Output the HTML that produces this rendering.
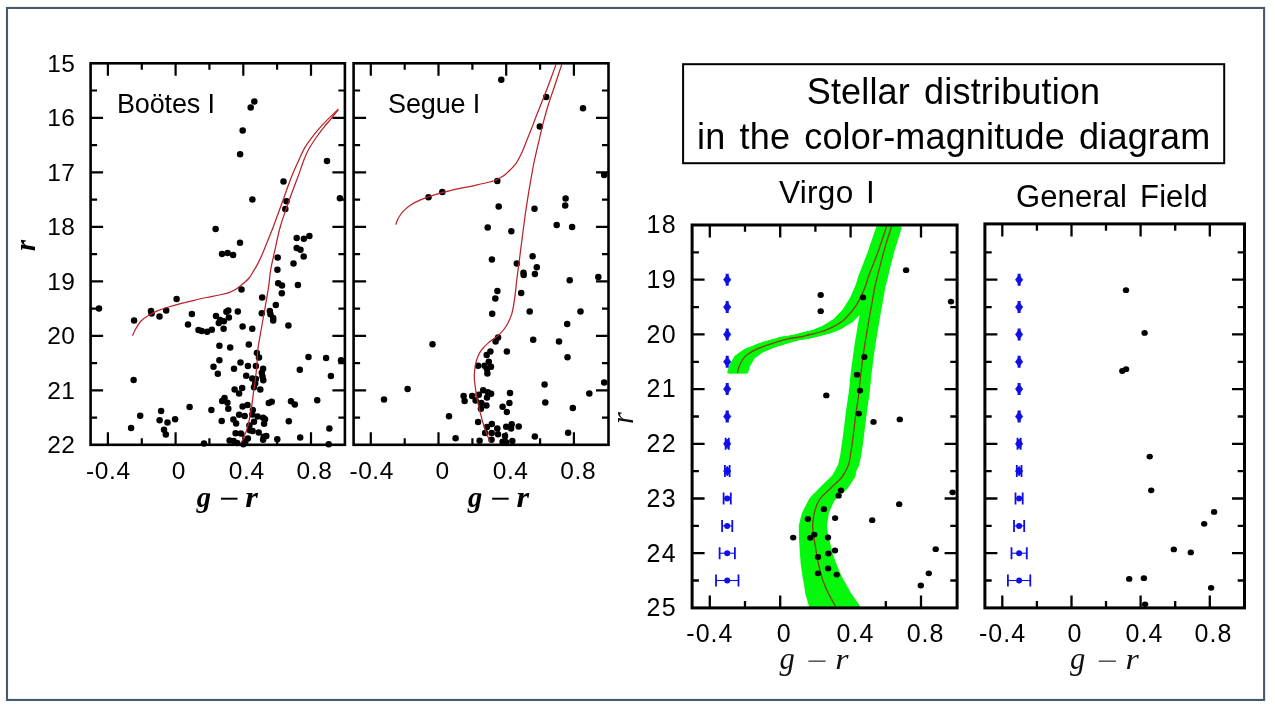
<!DOCTYPE html>
<html><head><meta charset="utf-8"><title>Stellar distribution in the color-magnitude diagram</title>
<style>html,body{margin:0;padding:0;background:#fff;}body{width:1275px;height:710px;overflow:hidden;font-family:"Liberation Sans",sans-serif;}svg{display:block;mix-blend-mode:multiply;}text{font-family:"Liberation Sans",sans-serif;fill:#000;}.bi{font-family:"Liberation Serif",serif;font-weight:bold;font-style:italic;}.it{font-family:"Liberation Serif",serif;font-style:italic;fill:#111;}</style>
</head><body>
<svg width="1275" height="710" viewBox="0 0 1275 710">
<rect x="0" y="0" width="1275" height="710" fill="#ffffff"/>
<rect x="7" y="7.95" width="1257.1" height="692" fill="none" stroke="#47596b" stroke-width="2.1"/>
<path d="M107.9,63.3v12.5M107.9,444.8v-12.5M175.6,63.3v12.5M175.6,444.8v-12.5M243.3,63.3v12.5M243.3,444.8v-12.5M311.0,63.3v12.5M311.0,444.8v-12.5M141.8,63.3v6.5M141.8,444.8v-6.5M209.4,63.3v6.5M209.4,444.8v-6.5M277.1,63.3v6.5M277.1,444.8v-6.5M90.6,117.8h12.5M344.9,117.8h-12.5M90.6,172.3h12.5M344.9,172.3h-12.5M90.6,226.8h12.5M344.9,226.8h-12.5M90.6,281.3h12.5M344.9,281.3h-12.5M90.6,335.8h12.5M344.9,335.8h-12.5M90.6,390.3h12.5M344.9,390.3h-12.5M90.6,90.5h6.5M344.9,90.5h-6.5M90.6,145.1h6.5M344.9,145.1h-6.5M90.6,199.6h6.5M344.9,199.6h-6.5M90.6,254.1h6.5M344.9,254.1h-6.5M90.6,308.6h6.5M344.9,308.6h-6.5M90.6,363.1h6.5M344.9,363.1h-6.5M90.6,417.6h6.5M344.9,417.6h-6.5" stroke="#000" stroke-width="2.2" fill="none"/>
<path d="M370.8,63.3v12.5M370.8,444.8v-12.5M438.5,63.3v12.5M438.5,444.8v-12.5M506.2,63.3v12.5M506.2,444.8v-12.5M573.9,63.3v12.5M573.9,444.8v-12.5M404.7,63.3v6.5M404.7,444.8v-6.5M472.4,63.3v6.5M472.4,444.8v-6.5M540.1,63.3v6.5M540.1,444.8v-6.5M353.6,117.8h12.5M608.5,117.8h-12.5M353.6,172.3h12.5M608.5,172.3h-12.5M353.6,226.8h12.5M608.5,226.8h-12.5M353.6,281.3h12.5M608.5,281.3h-12.5M353.6,335.8h12.5M608.5,335.8h-12.5M353.6,390.3h12.5M608.5,390.3h-12.5M353.6,90.5h6.5M608.5,90.5h-6.5M353.6,145.1h6.5M608.5,145.1h-6.5M353.6,199.6h6.5M608.5,199.6h-6.5M353.6,254.1h6.5M608.5,254.1h-6.5M353.6,308.6h6.5M608.5,308.6h-6.5M353.6,363.1h6.5M608.5,363.1h-6.5M353.6,417.6h6.5M608.5,417.6h-6.5" stroke="#000" stroke-width="2.2" fill="none"/>
<clipPath id="c1"><rect x="90.6" y="63.3" width="254.3" height="381.5"/></clipPath>
<clipPath id="c2"><rect x="353.6" y="63.3" width="254.9" height="381.5"/></clipPath>
<g fill="#000"><ellipse cx="254.3" cy="101.6" rx="3.25" ry="3.25"/><ellipse cx="250.7" cy="107.4" rx="3.25" ry="3.25"/><ellipse cx="242.7" cy="130.5" rx="3.25" ry="3.25"/><ellipse cx="240.1" cy="154.3" rx="3.25" ry="3.25"/><ellipse cx="327.0" cy="160.9" rx="3.25" ry="3.25"/><ellipse cx="283.5" cy="181.4" rx="3.25" ry="3.25"/><ellipse cx="252.4" cy="199.5" rx="3.25" ry="3.25"/><ellipse cx="286.5" cy="201.3" rx="3.25" ry="3.25"/><ellipse cx="285.3" cy="209.0" rx="3.25" ry="3.25"/><ellipse cx="339.9" cy="198.3" rx="3.25" ry="3.25"/><ellipse cx="215.6" cy="229.0" rx="3.25" ry="3.25"/><ellipse cx="222.0" cy="253.9" rx="3.25" ry="3.25"/><ellipse cx="227.6" cy="253.0" rx="3.25" ry="3.25"/><ellipse cx="233.1" cy="255.0" rx="3.25" ry="3.25"/><ellipse cx="240.0" cy="242.7" rx="3.25" ry="3.25"/><ellipse cx="296.7" cy="238.0" rx="3.25" ry="3.25"/><ellipse cx="303.9" cy="238.7" rx="3.25" ry="3.25"/><ellipse cx="309.4" cy="235.9" rx="3.25" ry="3.25"/><ellipse cx="296.7" cy="247.9" rx="3.25" ry="3.25"/><ellipse cx="300.5" cy="249.8" rx="3.25" ry="3.25"/><ellipse cx="303.7" cy="256.4" rx="3.25" ry="3.25"/><ellipse cx="277.7" cy="257.4" rx="3.25" ry="3.25"/><ellipse cx="293.5" cy="263.4" rx="3.25" ry="3.25"/><ellipse cx="277.4" cy="269.7" rx="3.25" ry="3.25"/><ellipse cx="278.2" cy="283.2" rx="3.25" ry="3.25"/><ellipse cx="282.0" cy="285.6" rx="3.25" ry="3.25"/><ellipse cx="297.9" cy="285.0" rx="3.25" ry="3.25"/><ellipse cx="241.5" cy="289.5" rx="3.25" ry="3.25"/><ellipse cx="99.0" cy="308.5" rx="3.25" ry="3.25"/><ellipse cx="134.1" cy="320.6" rx="3.25" ry="3.25"/><ellipse cx="151.0" cy="311.1" rx="3.25" ry="3.25"/><ellipse cx="151.6" cy="313.6" rx="3.25" ry="3.25"/><ellipse cx="159.5" cy="316.5" rx="3.25" ry="3.25"/><ellipse cx="166.2" cy="310.4" rx="3.25" ry="3.25"/><ellipse cx="176.6" cy="299.0" rx="3.25" ry="3.25"/><ellipse cx="191.9" cy="314.0" rx="3.25" ry="3.25"/><ellipse cx="188.0" cy="324.4" rx="3.25" ry="3.25"/><ellipse cx="198.5" cy="330.1" rx="3.25" ry="3.25"/><ellipse cx="201.7" cy="331.1" rx="3.25" ry="3.25"/><ellipse cx="207.1" cy="331.7" rx="3.25" ry="3.25"/><ellipse cx="211.8" cy="329.8" rx="3.25" ry="3.25"/><ellipse cx="216.0" cy="315.9" rx="3.25" ry="3.25"/><ellipse cx="218.8" cy="323.1" rx="3.25" ry="3.25"/><ellipse cx="220.1" cy="319.9" rx="3.25" ry="3.25"/><ellipse cx="223.9" cy="321.2" rx="3.25" ry="3.25"/><ellipse cx="223.6" cy="328.8" rx="3.25" ry="3.25"/><ellipse cx="228.9" cy="317.6" rx="3.25" ry="3.25"/><ellipse cx="228.3" cy="310.4" rx="3.25" ry="3.25"/><ellipse cx="226.4" cy="311.7" rx="3.25" ry="3.25"/><ellipse cx="237.8" cy="311.4" rx="3.25" ry="3.25"/><ellipse cx="219.4" cy="345.7" rx="3.25" ry="3.25"/><ellipse cx="230.2" cy="347.4" rx="3.25" ry="3.25"/><ellipse cx="219.4" cy="360.2" rx="3.25" ry="3.25"/><ellipse cx="213.5" cy="366.8" rx="3.25" ry="3.25"/><ellipse cx="234.0" cy="368.7" rx="3.25" ry="3.25"/><ellipse cx="240.5" cy="362.5" rx="3.25" ry="3.25"/><ellipse cx="281.8" cy="293.3" rx="3.25" ry="3.25"/><ellipse cx="262.2" cy="297.5" rx="3.25" ry="3.25"/><ellipse cx="275.8" cy="305.0" rx="3.25" ry="3.25"/><ellipse cx="261.8" cy="313.3" rx="3.25" ry="3.25"/><ellipse cx="269.8" cy="311.1" rx="3.25" ry="3.25"/><ellipse cx="270.4" cy="314.2" rx="3.25" ry="3.25"/><ellipse cx="273.2" cy="318.0" rx="3.25" ry="3.25"/><ellipse cx="273.2" cy="320.6" rx="3.25" ry="3.25"/><ellipse cx="288.4" cy="325.6" rx="3.25" ry="3.25"/><ellipse cx="242.6" cy="326.5" rx="3.25" ry="3.25"/><ellipse cx="252.3" cy="328.8" rx="3.25" ry="3.25"/><ellipse cx="248.8" cy="344.6" rx="3.25" ry="3.25"/><ellipse cx="256.8" cy="352.9" rx="3.25" ry="3.25"/><ellipse cx="259.0" cy="357.6" rx="3.25" ry="3.25"/><ellipse cx="247.9" cy="365.9" rx="3.25" ry="3.25"/><ellipse cx="255.9" cy="365.9" rx="3.25" ry="3.25"/><ellipse cx="263.1" cy="368.7" rx="3.25" ry="3.25"/><ellipse cx="308.5" cy="357.1" rx="3.25" ry="3.25"/><ellipse cx="326.1" cy="357.9" rx="3.25" ry="3.25"/><ellipse cx="341.0" cy="360.3" rx="3.25" ry="3.25"/><ellipse cx="299.8" cy="369.8" rx="3.25" ry="3.25"/><ellipse cx="133.6" cy="379.9" rx="3.25" ry="3.25"/><ellipse cx="140.2" cy="415.8" rx="3.25" ry="3.25"/><ellipse cx="131.1" cy="428.1" rx="3.25" ry="3.25"/><ellipse cx="161.1" cy="411.0" rx="3.25" ry="3.25"/><ellipse cx="159.6" cy="420.2" rx="3.25" ry="3.25"/><ellipse cx="167.5" cy="422.5" rx="3.25" ry="3.25"/><ellipse cx="175.1" cy="419.2" rx="3.25" ry="3.25"/><ellipse cx="164.0" cy="429.7" rx="3.25" ry="3.25"/><ellipse cx="165.8" cy="434.5" rx="3.25" ry="3.25"/><ellipse cx="189.6" cy="406.9" rx="3.25" ry="3.25"/><ellipse cx="211.4" cy="410.1" rx="3.25" ry="3.25"/><ellipse cx="217.8" cy="373.7" rx="3.25" ry="3.25"/><ellipse cx="234.6" cy="389.5" rx="3.25" ry="3.25"/><ellipse cx="239.1" cy="393.6" rx="3.25" ry="3.25"/><ellipse cx="224.5" cy="398.0" rx="3.25" ry="3.25"/><ellipse cx="222.2" cy="400.9" rx="3.25" ry="3.25"/><ellipse cx="227.4" cy="402.7" rx="3.25" ry="3.25"/><ellipse cx="228.3" cy="408.8" rx="3.25" ry="3.25"/><ellipse cx="221.7" cy="421.1" rx="3.25" ry="3.25"/><ellipse cx="233.4" cy="419.6" rx="3.25" ry="3.25"/><ellipse cx="236.1" cy="423.4" rx="3.25" ry="3.25"/><ellipse cx="239.1" cy="414.8" rx="3.25" ry="3.25"/><ellipse cx="235.6" cy="433.3" rx="3.25" ry="3.25"/><ellipse cx="229.6" cy="440.5" rx="3.25" ry="3.25"/><ellipse cx="233.6" cy="441.1" rx="3.25" ry="3.25"/><ellipse cx="204.0" cy="443.4" rx="3.25" ry="3.25"/><ellipse cx="261.8" cy="372.7" rx="3.25" ry="3.25"/><ellipse cx="262.5" cy="376.5" rx="3.25" ry="3.25"/><ellipse cx="263.3" cy="380.3" rx="3.25" ry="3.25"/><ellipse cx="246.2" cy="375.8" rx="3.25" ry="3.25"/><ellipse cx="252.3" cy="378.4" rx="3.25" ry="3.25"/><ellipse cx="255.9" cy="379.0" rx="3.25" ry="3.25"/><ellipse cx="255.2" cy="383.4" rx="3.25" ry="3.25"/><ellipse cx="254.0" cy="387.2" rx="3.25" ry="3.25"/><ellipse cx="260.3" cy="389.5" rx="3.25" ry="3.25"/><ellipse cx="242.2" cy="388.1" rx="3.25" ry="3.25"/><ellipse cx="242.6" cy="406.6" rx="3.25" ry="3.25"/><ellipse cx="247.5" cy="405.0" rx="3.25" ry="3.25"/><ellipse cx="268.8" cy="403.1" rx="3.25" ry="3.25"/><ellipse cx="271.7" cy="401.8" rx="3.25" ry="3.25"/><ellipse cx="291.0" cy="401.2" rx="3.25" ry="3.25"/><ellipse cx="294.8" cy="404.4" rx="3.25" ry="3.25"/><ellipse cx="317.2" cy="400.2" rx="3.25" ry="3.25"/><ellipse cx="330.9" cy="376.1" rx="3.25" ry="3.25"/><ellipse cx="252.9" cy="410.1" rx="3.25" ry="3.25"/><ellipse cx="252.3" cy="414.5" rx="3.25" ry="3.25"/><ellipse cx="244.7" cy="416.1" rx="3.25" ry="3.25"/><ellipse cx="257.6" cy="416.6" rx="3.25" ry="3.25"/><ellipse cx="263.1" cy="417.7" rx="3.25" ry="3.25"/><ellipse cx="265.0" cy="419.3" rx="3.25" ry="3.25"/><ellipse cx="264.1" cy="423.7" rx="3.25" ry="3.25"/><ellipse cx="254.0" cy="421.7" rx="3.25" ry="3.25"/><ellipse cx="249.4" cy="425.5" rx="3.25" ry="3.25"/><ellipse cx="249.8" cy="430.3" rx="3.25" ry="3.25"/><ellipse cx="252.7" cy="431.0" rx="3.25" ry="3.25"/><ellipse cx="258.7" cy="432.6" rx="3.25" ry="3.25"/><ellipse cx="240.9" cy="433.5" rx="3.25" ry="3.25"/><ellipse cx="288.8" cy="421.2" rx="3.25" ry="3.25"/><ellipse cx="329.4" cy="428.4" rx="3.25" ry="3.25"/><ellipse cx="300.2" cy="437.6" rx="3.25" ry="3.25"/><ellipse cx="277.3" cy="439.2" rx="3.25" ry="3.25"/><ellipse cx="263.7" cy="436.7" rx="3.25" ry="3.25"/><ellipse cx="266.3" cy="436.0" rx="3.25" ry="3.25"/><ellipse cx="263.1" cy="439.8" rx="3.25" ry="3.25"/><ellipse cx="247.9" cy="438.6" rx="3.25" ry="3.25"/><ellipse cx="237.1" cy="443.0" rx="3.25" ry="3.25"/><ellipse cx="243.4" cy="444.3" rx="3.25" ry="3.25"/><ellipse cx="245.3" cy="441.7" rx="3.25" ry="3.25"/><ellipse cx="328.7" cy="444.3" rx="3.25" ry="3.25"/></g>
<g fill="#000"><ellipse cx="501.3" cy="79.8" rx="3.25" ry="3.25"/><ellipse cx="546.2" cy="96.9" rx="3.25" ry="3.25"/><ellipse cx="583.0" cy="108.3" rx="3.25" ry="3.25"/><ellipse cx="539.8" cy="126.4" rx="3.25" ry="3.25"/><ellipse cx="428.5" cy="197.2" rx="3.25" ry="3.25"/><ellipse cx="442.3" cy="192.1" rx="3.25" ry="3.25"/><ellipse cx="497.3" cy="181.0" rx="3.25" ry="3.25"/><ellipse cx="498.7" cy="206.4" rx="3.25" ry="3.25"/><ellipse cx="534.5" cy="208.8" rx="3.25" ry="3.25"/><ellipse cx="565.6" cy="198.4" rx="3.25" ry="3.25"/><ellipse cx="565.2" cy="205.4" rx="3.25" ry="3.25"/><ellipse cx="604.2" cy="175.0" rx="3.25" ry="3.25"/><ellipse cx="487.7" cy="227.5" rx="3.25" ry="3.25"/><ellipse cx="491.9" cy="259.4" rx="3.25" ry="3.25"/><ellipse cx="497.4" cy="290.9" rx="3.25" ry="3.25"/><ellipse cx="495.3" cy="298.5" rx="3.25" ry="3.25"/><ellipse cx="511.3" cy="231.3" rx="3.25" ry="3.25"/><ellipse cx="556.7" cy="225.0" rx="3.25" ry="3.25"/><ellipse cx="572.1" cy="227.1" rx="3.25" ry="3.25"/><ellipse cx="532.6" cy="256.3" rx="3.25" ry="3.25"/><ellipse cx="516.8" cy="263.6" rx="3.25" ry="3.25"/><ellipse cx="536.8" cy="267.3" rx="3.25" ry="3.25"/><ellipse cx="523.5" cy="272.7" rx="3.25" ry="3.25"/><ellipse cx="523.7" cy="274.9" rx="3.25" ry="3.25"/><ellipse cx="534.9" cy="274.0" rx="3.25" ry="3.25"/><ellipse cx="569.7" cy="280.3" rx="3.25" ry="3.25"/><ellipse cx="598.3" cy="276.9" rx="3.25" ry="3.25"/><ellipse cx="521.2" cy="293.0" rx="3.25" ry="3.25"/><ellipse cx="492.2" cy="313.7" rx="3.25" ry="3.25"/><ellipse cx="432.5" cy="344.2" rx="3.25" ry="3.25"/><ellipse cx="498.1" cy="337.5" rx="3.25" ry="3.25"/><ellipse cx="495.6" cy="341.5" rx="3.25" ry="3.25"/><ellipse cx="490.4" cy="351.5" rx="3.25" ry="3.25"/><ellipse cx="486.7" cy="355.1" rx="3.25" ry="3.25"/><ellipse cx="488.8" cy="361.7" rx="3.25" ry="3.25"/><ellipse cx="478.1" cy="365.8" rx="3.25" ry="3.25"/><ellipse cx="484.5" cy="365.8" rx="3.25" ry="3.25"/><ellipse cx="491.0" cy="366.7" rx="3.25" ry="3.25"/><ellipse cx="487.0" cy="369.2" rx="3.25" ry="3.25"/><ellipse cx="487.4" cy="373.6" rx="3.25" ry="3.25"/><ellipse cx="529.7" cy="311.5" rx="3.25" ry="3.25"/><ellipse cx="580.5" cy="311.5" rx="3.25" ry="3.25"/><ellipse cx="567.2" cy="324.0" rx="3.25" ry="3.25"/><ellipse cx="533.2" cy="339.8" rx="3.25" ry="3.25"/><ellipse cx="559.0" cy="341.6" rx="3.25" ry="3.25"/><ellipse cx="506.9" cy="351.5" rx="3.25" ry="3.25"/><ellipse cx="567.5" cy="357.2" rx="3.25" ry="3.25"/><ellipse cx="407.6" cy="389.1" rx="3.25" ry="3.25"/><ellipse cx="384.0" cy="399.6" rx="3.25" ry="3.25"/><ellipse cx="449.0" cy="416.3" rx="3.25" ry="3.25"/><ellipse cx="455.6" cy="438.3" rx="3.25" ry="3.25"/><ellipse cx="463.6" cy="396.1" rx="3.25" ry="3.25"/><ellipse cx="464.6" cy="400.9" rx="3.25" ry="3.25"/><ellipse cx="472.2" cy="396.1" rx="3.25" ry="3.25"/><ellipse cx="475.6" cy="400.5" rx="3.25" ry="3.25"/><ellipse cx="478.8" cy="394.8" rx="3.25" ry="3.25"/><ellipse cx="483.2" cy="390.3" rx="3.25" ry="3.25"/><ellipse cx="487.9" cy="392.2" rx="3.25" ry="3.25"/><ellipse cx="491.1" cy="393.7" rx="3.25" ry="3.25"/><ellipse cx="487.0" cy="397.4" rx="3.25" ry="3.25"/><ellipse cx="481.3" cy="403.0" rx="3.25" ry="3.25"/><ellipse cx="486.4" cy="405.6" rx="3.25" ry="3.25"/><ellipse cx="480.9" cy="408.7" rx="3.25" ry="3.25"/><ellipse cx="478.1" cy="422.0" rx="3.25" ry="3.25"/><ellipse cx="487.0" cy="427.1" rx="3.25" ry="3.25"/><ellipse cx="491.8" cy="423.9" rx="3.25" ry="3.25"/><ellipse cx="485.1" cy="433.1" rx="3.25" ry="3.25"/><ellipse cx="491.7" cy="433.1" rx="3.25" ry="3.25"/><ellipse cx="497.3" cy="428.6" rx="3.25" ry="3.25"/><ellipse cx="498.0" cy="434.3" rx="3.25" ry="3.25"/><ellipse cx="491.5" cy="439.8" rx="3.25" ry="3.25"/><ellipse cx="479.6" cy="440.7" rx="3.25" ry="3.25"/><ellipse cx="544.6" cy="384.4" rx="3.25" ry="3.25"/><ellipse cx="604.2" cy="382.4" rx="3.25" ry="3.25"/><ellipse cx="589.3" cy="393.5" rx="3.25" ry="3.25"/><ellipse cx="510.0" cy="393.1" rx="3.25" ry="3.25"/><ellipse cx="509.4" cy="403.0" rx="3.25" ry="3.25"/><ellipse cx="502.6" cy="406.8" rx="3.25" ry="3.25"/><ellipse cx="506.9" cy="412.1" rx="3.25" ry="3.25"/><ellipse cx="545.3" cy="402.6" rx="3.25" ry="3.25"/><ellipse cx="572.8" cy="408.1" rx="3.25" ry="3.25"/><ellipse cx="506.2" cy="426.7" rx="3.25" ry="3.25"/><ellipse cx="511.7" cy="424.2" rx="3.25" ry="3.25"/><ellipse cx="511.1" cy="428.4" rx="3.25" ry="3.25"/><ellipse cx="518.7" cy="426.5" rx="3.25" ry="3.25"/><ellipse cx="505.0" cy="436.0" rx="3.25" ry="3.25"/><ellipse cx="502.6" cy="441.7" rx="3.25" ry="3.25"/><ellipse cx="506.0" cy="442.3" rx="3.25" ry="3.25"/><ellipse cx="512.3" cy="441.0" rx="3.25" ry="3.25"/><ellipse cx="534.8" cy="436.6" rx="3.25" ry="3.25"/><ellipse cx="568.1" cy="432.8" rx="3.25" ry="3.25"/></g>
<g clip-path="url(#c1)" fill="none" stroke="#b8242a" stroke-width="1.25"><path d="M132.6,335.8 C133.1,334.6 134.4,331.2 135.8,328.8 C137.2,326.4 138.7,323.4 140.8,321.2 C142.9,319.0 145.4,317.3 148.4,315.5 C151.4,313.7 155.2,311.8 158.6,310.4 C162.0,309.0 164.9,308.2 168.7,307.0 C172.5,305.8 177.2,304.5 181.4,303.4 C185.6,302.3 189.9,301.3 194.1,300.3 C198.3,299.3 202.5,298.4 206.7,297.5 C210.9,296.6 215.6,295.9 219.4,295.0 C223.2,294.1 226.7,293.4 229.6,292.3 C232.5,291.2 234.5,290.1 237.0,288.5 C239.5,286.9 242.4,284.3 244.5,282.5 C246.6,280.7 248.1,279.2 249.5,277.5 C250.9,275.8 251.6,274.4 253.0,272.0 C254.4,269.6 256.2,266.9 258.0,263.4 C259.8,259.8 261.2,256.8 263.7,250.7 C266.2,244.6 270.0,235.4 273.2,227.0 C276.4,218.6 280.5,207.2 283.1,200.0 C285.7,192.8 287.2,188.3 288.9,183.7 C290.6,179.1 291.7,176.3 293.4,172.3 C295.1,168.3 297.2,163.7 299.1,159.6 C301.0,155.5 302.6,151.4 304.8,147.6 C307.0,143.8 309.6,140.4 312.4,136.8 C315.1,133.2 318.1,129.6 321.3,126.1 C324.5,122.6 328.5,118.7 331.4,115.9 C334.2,113.1 337.2,110.3 338.4,109.2"/><path d="M338.4,109.6 C337.2,111.1 333.8,115.5 331.4,118.4 C329.0,121.4 326.3,124.1 323.8,127.3 C321.3,130.5 318.7,133.8 316.2,137.5 C313.7,141.2 310.7,145.6 308.6,149.5 C306.5,153.4 305.1,156.9 303.5,160.9 C301.9,164.9 300.5,169.8 299.1,173.6 C297.7,177.4 296.9,179.3 295.3,183.7 C293.7,188.1 291.8,192.8 289.3,200.0 C286.8,207.2 282.6,218.6 280.2,227.0 C277.8,235.4 276.4,243.6 274.8,250.7 C273.2,257.8 271.8,263.4 270.7,269.7 C269.6,276.0 269.8,279.5 268.3,288.7 C266.9,297.9 263.7,315.1 262.0,325.0 C260.3,334.9 258.9,341.7 258.0,348.4 C257.1,355.1 257.3,359.7 256.9,365.0 C256.4,370.3 255.9,375.6 255.3,380.0 C254.8,384.4 254.3,386.6 253.6,391.7 C252.9,396.8 252.1,404.6 251.0,410.7 C249.9,416.8 248.8,423.1 247.2,428.4 C245.6,433.7 242.4,440.1 241.5,442.4"/></g>
<g clip-path="url(#c2)" fill="none" stroke="#b8242a" stroke-width="1.25"><path d="M395.8,224.6 C396.1,223.8 396.8,221.3 397.5,219.8 C398.2,218.3 399.0,216.9 400.0,215.5 C401.0,214.1 401.6,212.9 403.4,211.1 C405.2,209.3 408.1,206.7 411.0,204.8 C413.9,202.9 417.1,201.4 421.1,199.7 C425.1,198.0 429.6,196.3 435.1,194.6 C440.6,192.9 447.8,191.1 454.1,189.6 C460.4,188.1 467.2,187.1 473.1,185.8 C479.0,184.5 485.6,183.1 489.6,182.0 C493.6,180.9 494.4,180.8 497.0,179.5 C499.6,178.2 502.2,177.0 505.3,174.4 C508.4,171.8 512.8,167.8 515.5,164.2 C518.2,160.6 519.9,156.8 521.8,152.8 C523.7,148.8 525.4,143.9 526.9,140.1 C528.4,136.3 529.5,133.8 531.0,130.0 C532.5,126.2 533.3,123.6 535.8,117.2 C538.3,110.8 542.5,100.6 545.9,91.8 C549.3,83.0 554.3,69.1 556.0,64.6"/><path d="M561.7,64.6 C560.6,68.1 557.0,78.8 554.8,85.5 C552.6,92.2 550.3,98.4 548.4,104.5 C546.5,110.6 544.9,116.4 543.4,122.2 C541.9,128.0 540.9,132.6 539.3,139.4 C537.7,146.2 535.3,156.1 533.9,163.0 C532.5,169.9 531.8,174.6 530.7,180.7 C529.6,186.8 528.4,194.0 527.5,199.7 C526.6,205.4 526.0,209.1 525.2,215.0 C524.4,220.9 523.5,227.7 522.5,235.3 C521.5,242.9 520.2,253.3 519.3,260.7 C518.3,268.1 517.6,273.2 516.8,279.7 C516.0,286.2 515.4,293.9 514.5,299.6 C513.6,305.3 513.0,309.8 511.7,314.1 C510.4,318.4 508.6,322.1 506.6,325.5 C504.6,328.9 502.5,331.5 499.5,334.4 C496.5,337.2 491.8,339.8 488.6,342.6 C485.4,345.4 482.6,348.2 480.5,351.3 C478.4,354.4 477.3,357.7 476.3,361.0 C475.3,364.3 474.9,368.0 474.6,371.1 C474.3,374.2 474.1,375.5 474.4,379.4 C474.7,383.2 475.5,389.2 476.3,394.2 C477.1,399.2 478.1,404.1 479.4,409.4 C480.7,414.7 482.1,420.3 483.9,425.8 C485.7,431.3 489.1,439.6 490.2,442.3"/></g>
<rect x="90.6" y="63.3" width="254.3" height="381.5" fill="none" stroke="#000" stroke-width="2.6"/>
<rect x="353.6" y="63.3" width="254.9" height="381.5" fill="none" stroke="#000" stroke-width="2.6"/>
<text x="75.3" y="71.7" font-size="24.5" text-anchor="end" letter-spacing="0.4">15</text>
<text x="75.3" y="126.2" font-size="24.5" text-anchor="end" letter-spacing="0.4">16</text>
<text x="75.3" y="180.7" font-size="24.5" text-anchor="end" letter-spacing="0.4">17</text>
<text x="75.3" y="235.2" font-size="24.5" text-anchor="end" letter-spacing="0.4">18</text>
<text x="75.3" y="289.7" font-size="24.5" text-anchor="end" letter-spacing="0.4">19</text>
<text x="75.3" y="344.2" font-size="24.5" text-anchor="end" letter-spacing="0.4">20</text>
<text x="75.3" y="398.7" font-size="24.5" text-anchor="end" letter-spacing="0.4">21</text>
<text x="75.3" y="453.2" font-size="24.5" text-anchor="end" letter-spacing="0.4">22</text>
<text x="108.3" y="478.8" font-size="24.5" text-anchor="middle" letter-spacing="0.6">-0.4</text>
<text x="178.8" y="478.8" font-size="24.5" text-anchor="middle" letter-spacing="0.6">0</text>
<text x="246.8" y="478.8" font-size="24.5" text-anchor="middle" letter-spacing="0.6">0.4</text>
<text x="314.5" y="478.8" font-size="24.5" text-anchor="middle" letter-spacing="0.6">0.8</text>
<text x="371.7" y="478.8" font-size="24.5" text-anchor="middle" letter-spacing="0.6">-0.4</text>
<text x="442.5" y="478.8" font-size="24.5" text-anchor="middle" letter-spacing="0.6">0</text>
<text x="510.6" y="478.8" font-size="24.5" text-anchor="middle" letter-spacing="0.6">0.4</text>
<text x="578.1999999999999" y="478.8" font-size="24.5" text-anchor="middle" letter-spacing="0.6">0.8</text>
<text x="117" y="112.7" font-size="27" letter-spacing="-0.15">Boötes I</text>
<text x="388.1" y="112.7" font-size="27" letter-spacing="-0.15">Segue I</text>
<text class="bi" x="196.8" y="506.7" font-size="28.5">g</text>
<rect x="221.0" y="497.7" width="16.5" height="2" fill="#000"/>
<text class="bi" transform="translate(245.2,506.7) scale(1.14,1)" font-size="28.5">r</text>
<text class="bi" x="468.0" y="506.7" font-size="28.5">g</text>
<rect x="492.2" y="497.7" width="16.5" height="2" fill="#000"/>
<text class="bi" transform="translate(516.4,506.7) scale(1.14,1)" font-size="28.5">r</text>
<text class="bi" font-size="28.5" transform="translate(35,251) rotate(-90)">r</text>
<path d="M709.8,225.0v12.5M709.8,607.9v-12.5M780.2,225.0v12.5M780.2,607.9v-12.5M850.6,225.0v12.5M850.6,607.9v-12.5M921.0,225.0v12.5M921.0,607.9v-12.5M745.0,225.0v6.8M745.0,607.9v-6.8M815.4,225.0v6.8M815.4,607.9v-6.8M885.8,225.0v6.8M885.8,607.9v-6.8M692.1,279.7h12.5M957.1,279.7h-12.5M692.1,334.4h12.5M957.1,334.4h-12.5M692.1,389.1h12.5M957.1,389.1h-12.5M692.1,443.8h12.5M957.1,443.8h-12.5M692.1,498.5h12.5M957.1,498.5h-12.5M692.1,553.2h12.5M957.1,553.2h-12.5M692.1,252.3h6.8M957.1,252.3h-6.8M692.1,307.1h6.8M957.1,307.1h-6.8M692.1,361.8h6.8M957.1,361.8h-6.8M692.1,416.5h6.8M957.1,416.5h-6.8M692.1,471.1h6.8M957.1,471.1h-6.8M692.1,525.9h6.8M957.1,525.9h-6.8M692.1,580.5h6.8M957.1,580.5h-6.8" stroke="#000" stroke-width="2.3" fill="none"/>
<path d="M1002.3,223.9v12.5M1002.3,607.9v-12.5M1071.5,223.9v12.5M1071.5,607.9v-12.5M1140.6,223.9v12.5M1140.6,607.9v-12.5M1209.8,223.9v12.5M1209.8,607.9v-12.5M1036.9,223.9v6.8M1036.9,607.9v-6.8M1106.0,223.9v6.8M1106.0,607.9v-6.8M1175.2,223.9v6.8M1175.2,607.9v-6.8M984.9,279.7h12.5M1244.5,279.7h-12.5M984.9,334.4h12.5M1244.5,334.4h-12.5M984.9,389.1h12.5M1244.5,389.1h-12.5M984.9,443.8h12.5M1244.5,443.8h-12.5M984.9,498.5h12.5M1244.5,498.5h-12.5M984.9,553.2h12.5M1244.5,553.2h-12.5M984.9,252.3h6.8M1244.5,252.3h-6.8M984.9,307.1h6.8M1244.5,307.1h-6.8M984.9,361.8h6.8M1244.5,361.8h-6.8M984.9,416.5h6.8M1244.5,416.5h-6.8M984.9,471.1h6.8M1244.5,471.1h-6.8M984.9,525.9h6.8M1244.5,525.9h-6.8M984.9,580.5h6.8M1244.5,580.5h-6.8" stroke="#000" stroke-width="2.3" fill="none"/>
<clipPath id="c3"><rect x="692.1" y="225.0" width="265.0" height="382.9"/></clipPath>
<clipPath id="c4"><rect x="692.1" y="225.0" width="265.0" height="148.2"/></clipPath>
<g clip-path="url(#c4)" fill="none" stroke="#06f80c" stroke-width="3.4" stroke-linejoin="round"><path d="M878.1,226.7 L875.8,233.3 L873.6,239.8 L871.4,246.4 L869.1,253.0 L866.9,258.7 L864.7,264.4 L862.5,270.1 L860.2,275.8 L859.5,278.1 L858.8,280.4 L858.1,282.7 L857.4,285.0 L856.1,288.1 L854.7,291.3 L853.4,294.5 L852.0,297.6 L850.1,300.8 L848.2,303.9 L846.2,307.1 L844.3,310.2 L841.9,312.8 L839.5,315.3 L837.1,317.8 L834.7,320.4 L831.6,322.3 L828.6,324.1 L825.5,326.0 L822.5,327.9 L819.8,328.9 L817.2,329.9 L814.5,331.0 L811.9,332.0 L809.3,332.6 L806.7,333.2 L804.1,333.9 L801.5,334.5 L799.0,335.1 L796.5,335.8 L794.0,336.4 L791.5,337.0 L788.7,337.4 L785.8,337.9 L783.0,338.3 L780.2,338.7 L774.8,340.3 L769.4,341.9 L764.1,343.5 L758.7,345.1 L755.2,346.5 L751.7,348.0 L748.2,349.4 L744.7,350.8 L742.5,352.4 L740.3,354.0 L738.1,355.5 L735.9,357.1 L734.6,359.3 L733.3,361.6 L732.0,363.8 L730.8,366.0 L730.3,367.8 L729.8,369.5 L729.3,371.2 L728.9,373.0 L728.8,374.0 L728.8,375.0 L728.7,376.0 L728.7,377.0"/><path d="M878.8,226.7 L876.6,233.3 L874.4,239.8 L872.1,246.4 L869.9,253.0 L867.7,258.7 L865.5,264.4 L863.2,270.1 L861.0,275.8 L860.3,278.1 L859.6,280.4 L858.9,282.7 L858.2,285.0 L856.8,288.1 L855.5,291.3 L854.1,294.5 L852.8,297.6 L850.9,300.8 L848.9,303.9 L847.0,307.1 L845.1,310.2 L842.7,312.8 L840.3,315.3 L837.9,317.8 L835.5,320.4 L832.4,322.3 L829.4,324.1 L826.3,326.0 L823.3,327.9 L820.6,328.9 L818.0,329.9 L815.3,331.0 L812.7,332.0 L810.1,332.6 L807.5,333.2 L804.9,333.9 L802.3,334.5 L799.8,335.1 L797.3,335.8 L794.8,336.4 L792.3,337.0 L789.4,337.4 L786.6,337.9 L783.8,338.3 L781.0,338.7 L775.6,340.3 L770.2,341.9 L764.8,343.5 L759.5,345.1 L756.0,346.5 L752.5,348.0 L749.0,349.4 L745.5,350.8 L743.3,352.4 L741.0,354.0 L738.8,355.5 L736.6,357.1 L735.4,359.3 L734.1,361.6 L732.8,363.8 L731.5,366.0 L731.1,367.8 L730.6,369.5 L730.1,371.2 L729.6,373.0 L729.6,374.0 L729.5,375.0 L729.5,376.0 L729.4,377.0"/><path d="M879.6,226.7 L877.4,233.3 L875.1,239.8 L872.9,246.4 L870.7,253.0 L868.4,258.7 L866.2,264.4 L864.0,270.1 L861.8,275.8 L861.1,278.1 L860.4,280.4 L859.7,282.7 L859.0,285.0 L857.6,288.1 L856.3,291.3 L854.9,294.5 L853.6,297.6 L851.6,300.8 L849.7,303.9 L847.8,307.1 L845.8,310.2 L843.4,312.8 L841.0,315.3 L838.6,317.8 L836.2,320.4 L833.2,322.3 L830.1,324.1 L827.1,326.0 L824.0,327.9 L821.4,328.9 L818.7,329.9 L816.1,331.0 L813.4,332.0 L810.8,332.6 L808.2,333.2 L805.6,333.9 L803.0,334.5 L800.5,335.1 L798.0,335.8 L795.5,336.4 L793.0,337.0 L790.2,337.4 L787.4,337.9 L784.6,338.3 L781.7,338.7 L776.4,340.3 L771.0,341.9 L765.6,343.5 L760.2,345.1 L756.7,346.5 L753.2,348.0 L749.7,349.4 L746.2,350.8 L744.0,352.4 L741.8,354.0 L739.6,355.5 L737.4,357.1 L736.1,359.3 L734.9,361.6 L733.6,363.8 L732.3,366.0 L731.8,367.8 L731.4,369.5 L730.9,371.2 L730.4,373.0 L730.4,374.0 L730.3,375.0 L730.3,376.0 L730.2,377.0"/><path d="M880.4,226.7 L878.1,233.3 L875.9,239.8 L873.7,246.4 L871.4,253.0 L869.2,258.7 L867.0,264.4 L864.8,270.1 L862.5,275.8 L861.8,278.1 L861.1,280.4 L860.4,282.7 L859.7,285.0 L858.4,288.1 L857.0,291.3 L855.7,294.5 L854.3,297.6 L852.4,300.8 L850.5,303.9 L848.5,307.1 L846.6,310.2 L844.2,312.8 L841.8,315.3 L839.4,317.8 L837.0,320.4 L834.0,322.3 L830.9,324.1 L827.9,326.0 L824.8,327.9 L822.2,328.9 L819.5,329.9 L816.9,331.0 L814.2,332.0 L811.6,332.6 L809.0,333.2 L806.4,333.9 L803.8,334.5 L801.3,335.1 L798.8,335.8 L796.3,336.4 L793.8,337.0 L791.0,337.4 L788.2,337.9 L785.3,338.3 L782.5,338.7 L777.1,340.3 L771.8,341.9 L766.4,343.5 L761.0,345.1 L757.5,346.5 L754.0,348.0 L750.5,349.4 L747.0,350.8 L744.8,352.4 L742.6,354.0 L740.4,355.5 L738.2,357.1 L736.9,359.3 L735.6,361.6 L734.4,363.8 L733.1,366.0 L732.6,367.8 L732.1,369.5 L731.7,371.2 L731.2,373.0 L731.1,374.0 L731.1,375.0 L731.0,376.0 L731.0,377.0"/><path d="M881.1,226.7 L878.9,233.3 L876.7,239.8 L874.4,246.4 L872.2,253.0 L870.0,258.7 L867.8,264.4 L865.5,270.1 L863.3,275.8 L862.6,278.1 L861.9,280.4 L861.2,282.7 L860.5,285.0 L859.2,288.1 L857.8,291.3 L856.4,294.5 L855.1,297.6 L853.2,300.8 L851.2,303.9 L849.3,307.1 L847.4,310.2 L845.0,312.8 L842.6,315.3 L840.2,317.8 L837.8,320.4 L834.7,322.3 L831.7,324.1 L828.6,326.0 L825.6,327.9 L822.9,328.9 L820.3,329.9 L817.6,331.0 L815.0,332.0 L812.4,332.6 L809.8,333.2 L807.2,333.9 L804.6,334.5 L802.1,335.1 L799.6,335.8 L797.1,336.4 L794.6,337.0 L791.8,337.4 L788.9,337.9 L786.1,338.3 L783.3,338.7 L777.9,340.3 L772.5,341.9 L767.2,343.5 L761.8,345.1 L758.3,346.5 L754.8,348.0 L751.3,349.4 L747.8,350.8 L745.6,352.4 L743.4,354.0 L741.2,355.5 L739.0,357.1 L737.7,359.3 L736.4,361.6 L735.1,363.8 L733.9,366.0 L733.4,367.8 L732.9,369.5 L732.4,371.2 L732.0,373.0 L731.9,374.0 L731.9,375.0 L731.8,376.0 L731.8,377.0"/><path d="M881.9,226.7 L879.7,233.3 L877.4,239.8 L875.2,246.4 L873.0,253.0 L870.8,258.7 L868.5,264.4 L866.3,270.1 L864.1,275.8 L863.4,278.1 L862.7,280.4 L862.0,282.7 L861.3,285.0 L859.9,288.1 L858.6,291.3 L857.2,294.5 L855.9,297.6 L853.9,300.8 L852.0,303.9 L850.1,307.1 L848.2,310.2 L845.8,312.8 L843.4,315.3 L841.0,317.8 L838.6,320.4 L835.5,322.3 L832.5,324.1 L829.4,326.0 L826.4,327.9 L823.7,328.9 L821.1,329.9 L818.4,331.0 L815.8,332.0 L813.2,332.6 L810.6,333.2 L808.0,333.9 L805.4,334.5 L802.9,335.1 L800.4,335.8 L797.9,336.4 L795.4,337.0 L792.5,337.4 L789.7,337.9 L786.9,338.3 L784.1,338.7 L778.7,340.3 L773.3,341.9 L767.9,343.5 L762.6,345.1 L759.1,346.5 L755.6,348.0 L752.1,349.4 L748.6,350.8 L746.4,352.4 L744.1,354.0 L741.9,355.5 L739.7,357.1 L738.5,359.3 L737.2,361.6 L735.9,363.8 L734.6,366.0 L734.2,367.8 L733.7,369.5 L733.2,371.2 L732.7,373.0 L732.7,374.0 L732.6,375.0 L732.6,376.0 L732.5,377.0"/><path d="M882.7,226.7 L880.4,233.3 L878.2,239.8 L876.0,246.4 L873.8,253.0 L871.5,258.7 L869.3,264.4 L867.1,270.1 L864.8,275.8 L864.1,278.1 L863.4,280.4 L862.7,282.7 L862.0,285.0 L860.7,288.1 L859.3,291.3 L858.0,294.5 L856.6,297.6 L854.7,300.8 L852.8,303.9 L850.9,307.1 L848.9,310.2 L846.5,312.8 L844.1,315.3 L841.7,317.8 L839.3,320.4 L836.3,322.3 L833.2,324.1 L830.2,326.0 L827.1,327.9 L824.5,328.9 L821.8,329.9 L819.2,331.0 L816.5,332.0 L813.9,332.6 L811.3,333.2 L808.7,333.9 L806.1,334.5 L803.6,335.1 L801.1,335.8 L798.6,336.4 L796.1,337.0 L793.3,337.4 L790.5,337.9 L787.7,338.3 L784.8,338.7 L779.5,340.3 L774.1,341.9 L768.7,343.5 L763.3,345.1 L759.8,346.5 L756.3,348.0 L752.8,349.4 L749.3,350.8 L747.1,352.4 L744.9,354.0 L742.7,355.5 L740.5,357.1 L739.2,359.3 L738.0,361.6 L736.7,363.8 L735.4,366.0 L734.9,367.8 L734.5,369.5 L734.0,371.2 L733.5,373.0 L733.5,374.0 L733.4,375.0 L733.4,376.0 L733.3,377.0"/><path d="M883.4,226.7 L881.2,233.3 L879.0,239.8 L876.7,246.4 L874.5,253.0 L872.3,258.7 L870.1,264.4 L867.8,270.1 L865.6,275.8 L864.9,278.1 L864.2,280.4 L863.5,282.7 L862.8,285.0 L861.5,288.1 L860.1,291.3 L858.8,294.5 L857.4,297.6 L855.5,300.8 L853.6,303.9 L851.6,307.1 L849.7,310.2 L847.3,312.8 L844.9,315.3 L842.5,317.8 L840.1,320.4 L837.1,322.3 L834.0,324.1 L831.0,326.0 L827.9,327.9 L825.3,328.9 L822.6,329.9 L820.0,331.0 L817.3,332.0 L814.7,332.6 L812.1,333.2 L809.5,333.9 L806.9,334.5 L804.4,335.1 L801.9,335.8 L799.4,336.4 L796.9,337.0 L794.1,337.4 L791.3,337.9 L788.4,338.3 L785.6,338.7 L780.2,340.3 L774.9,341.9 L769.5,343.5 L764.1,345.1 L760.6,346.5 L757.1,348.0 L753.6,349.4 L750.1,350.8 L747.9,352.4 L745.7,354.0 L743.5,355.5 L741.3,357.1 L740.0,359.3 L738.7,361.6 L737.5,363.8 L736.2,366.0 L735.7,367.8 L735.2,369.5 L734.8,371.2 L734.3,373.0 L734.2,374.0 L734.2,375.0 L734.1,376.0 L734.1,377.0"/><path d="M884.2,226.7 L882.0,233.3 L879.7,239.8 L877.5,246.4 L875.3,253.0 L873.1,258.7 L870.8,264.4 L868.6,270.1 L866.4,275.8 L865.7,278.1 L865.0,280.4 L864.3,282.7 L863.6,285.0 L862.2,288.1 L860.9,291.3 L859.5,294.5 L858.2,297.6 L856.3,300.8 L854.3,303.9 L852.4,307.1 L850.5,310.2 L848.1,312.8 L845.7,315.3 L843.3,317.8 L840.9,320.4 L837.8,322.3 L834.8,324.1 L831.7,326.0 L828.7,327.9 L826.0,328.9 L823.4,329.9 L820.7,331.0 L818.1,332.0 L815.5,332.6 L812.9,333.2 L810.3,333.9 L807.7,334.5 L805.2,335.1 L802.7,335.8 L800.2,336.4 L797.7,337.0 L794.9,337.4 L792.0,337.9 L789.2,338.3 L786.4,338.7 L781.0,340.3 L775.6,341.9 L770.3,343.5 L764.9,345.1 L761.4,346.5 L757.9,348.0 L754.4,349.4 L750.9,350.8 L748.7,352.4 L746.5,354.0 L744.3,355.5 L742.1,357.1 L740.8,359.3 L739.5,361.6 L738.2,363.8 L737.0,366.0 L736.5,367.8 L736.0,369.5 L735.5,371.2 L735.1,373.0 L735.0,374.0 L735.0,375.0 L734.9,376.0 L734.9,377.0"/><path d="M885.0,226.7 L882.7,233.3 L880.5,239.8 L878.3,246.4 L876.1,253.0 L873.8,258.7 L871.6,264.4 L869.4,270.1 L867.2,275.8 L866.5,278.1 L865.8,280.4 L865.1,282.7 L864.4,285.0 L863.0,288.1 L861.7,291.3 L860.3,294.5 L859.0,297.6 L857.0,300.8 L855.1,303.9 L853.2,307.1 L851.3,310.2 L848.9,312.8 L846.5,315.3 L844.1,317.8 L841.7,320.4 L838.6,322.3 L835.6,324.1 L832.5,326.0 L829.5,327.9 L826.8,328.9 L824.2,329.9 L821.5,331.0 L818.9,332.0 L816.3,332.6 L813.7,333.2 L811.1,333.9 L808.5,334.5 L806.0,335.1 L803.5,335.8 L801.0,336.4 L798.5,337.0 L795.6,337.4 L792.8,337.9 L790.0,338.3 L787.2,338.7 L781.8,340.3 L776.4,341.9 L771.0,343.5 L765.7,345.1 L762.2,346.5 L758.7,348.0 L755.2,349.4 L751.7,350.8 L749.5,352.4 L747.2,354.0 L745.0,355.5 L742.8,357.1 L741.6,359.3 L740.3,361.6 L739.0,363.8 L737.7,366.0 L737.3,367.8 L736.8,369.5 L736.3,371.2 L735.8,373.0 L735.8,374.0 L735.7,375.0 L735.7,376.0 L735.6,377.0"/><path d="M885.7,226.7 L883.5,233.3 L881.3,239.8 L879.1,246.4 L876.8,253.0 L874.6,258.7 L872.4,264.4 L870.2,270.1 L867.9,275.8 L867.2,278.1 L866.5,280.4 L865.8,282.7 L865.1,285.0 L863.8,288.1 L862.4,291.3 L861.1,294.5 L859.7,297.6 L857.8,300.8 L855.9,303.9 L854.0,307.1 L852.0,310.2 L849.6,312.8 L847.2,315.3 L844.8,317.8 L842.4,320.4 L839.4,322.3 L836.3,324.1 L833.3,326.0 L830.2,327.9 L827.6,328.9 L824.9,329.9 L822.3,331.0 L819.6,332.0 L817.0,332.6 L814.4,333.2 L811.8,333.9 L809.2,334.5 L806.7,335.1 L804.2,335.8 L801.7,336.4 L799.2,337.0 L796.4,337.4 L793.6,337.9 L790.8,338.3 L787.9,338.7 L782.6,340.3 L777.2,341.9 L771.8,343.5 L766.4,345.1 L762.9,346.5 L759.4,348.0 L755.9,349.4 L752.4,350.8 L750.2,352.4 L748.0,354.0 L745.8,355.5 L743.6,357.1 L742.3,359.3 L741.1,361.6 L739.8,363.8 L738.5,366.0 L738.0,367.8 L737.6,369.5 L737.1,371.2 L736.6,373.0 L736.6,374.0 L736.5,375.0 L736.5,376.0 L736.4,377.0"/><path d="M886.5,226.7 L884.3,233.3 L882.0,239.8 L879.8,246.4 L877.6,253.0 L875.4,258.7 L873.2,264.4 L870.9,270.1 L868.7,275.8 L868.0,278.1 L867.3,280.4 L866.6,282.7 L865.9,285.0 L864.5,288.1 L863.2,291.3 L861.9,294.5 L860.5,297.6 L858.6,300.8 L856.6,303.9 L854.7,307.1 L852.8,310.2 L850.4,312.8 L848.0,315.3 L845.6,317.8 L843.2,320.4 L840.2,322.3 L837.1,324.1 L834.0,326.0 L831.0,327.9 L828.4,328.9 L825.7,329.9 L823.0,331.0 L820.4,332.0 L817.8,332.6 L815.2,333.2 L812.6,333.9 L810.0,334.5 L807.5,335.1 L805.0,335.8 L802.5,336.4 L800.0,337.0 L797.2,337.4 L794.4,337.9 L791.5,338.3 L788.7,338.7 L783.3,340.3 L778.0,341.9 L772.6,343.5 L767.2,345.1 L763.7,346.5 L760.2,348.0 L756.7,349.4 L753.2,350.8 L751.0,352.4 L748.8,354.0 L746.6,355.5 L744.4,357.1 L743.1,359.3 L741.8,361.6 L740.6,363.8 L739.3,366.0 L738.8,367.8 L738.3,369.5 L737.9,371.2 L737.4,373.0 L737.4,374.0 L737.3,375.0 L737.2,376.0 L737.2,377.0"/><path d="M887.3,226.7 L885.1,233.3 L882.9,239.8 L880.6,246.4 L878.4,253.0 L876.2,258.7 L874.0,264.4 L871.7,270.1 L869.5,275.8 L868.8,278.1 L868.1,280.4 L867.4,282.7 L866.7,285.0 L865.4,288.1 L864.0,291.3 L862.7,294.5 L861.3,297.6 L859.4,300.8 L857.5,303.9 L855.5,307.1 L853.6,310.2 L851.2,312.8 L848.8,315.3 L846.4,317.8 L844.0,320.4 L841.0,322.3 L837.9,324.1 L834.9,326.0 L831.8,327.9 L829.2,328.9 L826.5,329.9 L823.9,331.0 L821.2,332.0 L818.6,332.6 L816.0,333.2 L813.4,333.9 L810.8,334.5 L808.3,335.1 L805.8,335.8 L803.3,336.4 L800.8,337.0 L798.0,337.4 L795.2,337.9 L792.3,338.3 L789.5,338.7 L784.1,340.3 L778.8,341.9 L773.4,343.5 L768.0,345.1 L764.5,346.5 L761.0,348.0 L757.5,349.4 L754.0,350.8 L751.8,352.4 L749.6,354.0 L747.4,355.5 L745.2,357.1 L743.9,359.3 L742.7,361.6 L741.4,363.8 L740.1,366.0 L739.6,367.8 L739.2,369.5 L738.7,371.2 L738.2,373.0 L738.2,374.0 L738.1,375.0 L738.1,376.0 L738.0,377.0"/><path d="M888.1,226.7 L885.9,233.3 L883.7,239.8 L881.4,246.4 L879.2,253.0 L877.0,258.7 L874.8,264.4 L872.5,270.1 L870.3,275.8 L869.6,278.1 L868.9,280.4 L868.2,282.7 L867.5,285.0 L866.2,288.1 L864.8,291.3 L863.5,294.5 L862.1,297.6 L860.2,300.8 L858.3,303.9 L856.3,307.1 L854.4,310.2 L852.0,312.8 L849.6,315.3 L847.2,317.8 L844.8,320.4 L841.8,322.3 L838.7,324.1 L835.7,326.0 L832.6,327.9 L830.0,328.9 L827.3,329.9 L824.7,331.0 L822.0,332.0 L819.4,332.6 L816.8,333.2 L814.2,333.9 L811.6,334.5 L809.1,335.1 L806.6,335.8 L804.1,336.4 L801.6,337.0 L798.8,337.4 L796.0,337.9 L793.1,338.3 L790.3,338.7 L784.9,340.3 L779.6,341.9 L774.2,343.5 L768.8,345.1 L765.3,346.5 L761.8,348.0 L758.3,349.4 L754.8,350.8 L752.6,352.4 L750.4,354.0 L748.2,355.5 L746.0,357.1 L744.8,359.3 L743.5,361.6 L742.2,363.8 L740.9,366.0 L740.5,367.8 L740.0,369.5 L739.5,371.2 L739.0,373.0 L739.0,374.0 L738.9,375.0 L738.9,376.0 L738.8,377.0"/><path d="M888.9,226.7 L886.7,233.3 L884.5,239.8 L882.2,246.4 L880.0,253.0 L877.8,258.7 L875.6,264.4 L873.3,270.1 L871.1,275.8 L870.4,278.1 L869.7,280.4 L869.0,282.7 L868.3,285.0 L867.0,288.1 L865.6,291.3 L864.3,294.5 L862.9,297.6 L861.0,300.8 L859.1,303.9 L857.2,307.1 L855.2,310.2 L852.8,312.8 L850.4,315.3 L848.0,317.8 L845.6,320.4 L842.6,322.3 L839.5,324.1 L836.5,326.0 L833.4,327.9 L830.8,328.9 L828.1,329.9 L825.5,331.0 L822.8,332.0 L820.2,332.6 L817.6,333.2 L815.0,333.9 L812.4,334.5 L809.9,335.1 L807.4,335.8 L804.9,336.4 L802.4,337.0 L799.6,337.4 L796.8,337.9 L794.0,338.3 L791.1,338.7 L785.8,340.3 L780.4,341.9 L775.0,343.5 L769.6,345.1 L766.1,346.5 L762.6,348.0 L759.1,349.4 L755.6,350.8 L753.4,352.4 L751.2,354.0 L749.0,355.5 L746.8,357.1 L745.6,359.3 L744.3,361.6 L743.0,363.8 L741.7,366.0 L741.3,367.8 L740.8,369.5 L740.3,371.2 L739.8,373.0 L739.8,374.0 L739.7,375.0 L739.7,376.0 L739.6,377.0"/><path d="M889.7,226.7 L887.5,233.3 L885.3,239.8 L883.0,246.4 L880.8,253.0 L878.6,258.7 L876.4,264.4 L874.1,270.1 L871.9,275.8 L871.2,278.1 L870.5,280.4 L869.8,282.7 L869.1,285.0 L867.8,288.1 L866.4,291.3 L865.1,294.5 L863.7,297.6 L861.8,300.8 L859.9,303.9 L858.0,307.1 L856.0,310.2 L853.6,312.8 L851.2,315.3 L848.8,317.8 L846.4,320.4 L843.4,322.3 L840.3,324.1 L837.3,326.0 L834.2,327.9 L831.6,328.9 L828.9,329.9 L826.3,331.0 L823.6,332.0 L821.0,332.6 L818.4,333.2 L815.8,333.9 L813.2,334.5 L810.7,335.1 L808.2,335.8 L805.7,336.4 L803.2,337.0 L800.4,337.4 L797.6,337.9 L794.8,338.3 L791.9,338.7 L786.6,340.3 L781.2,341.9 L775.8,343.5 L770.5,345.1 L767.0,346.5 L763.5,348.0 L760.0,349.4 L756.5,350.8 L754.3,352.4 L752.1,354.0 L749.9,355.5 L747.7,357.1 L746.4,359.3 L745.1,361.6 L743.8,363.8 L742.6,366.0 L742.1,367.8 L741.6,369.5 L741.1,371.2 L740.7,373.0 L740.6,374.0 L740.6,375.0 L740.5,376.0 L740.5,377.0"/><path d="M890.5,226.7 L888.3,233.3 L886.1,239.8 L883.8,246.4 L881.6,253.0 L879.4,258.7 L877.2,264.4 L874.9,270.1 L872.7,275.8 L872.0,278.1 L871.3,280.4 L870.6,282.7 L869.9,285.0 L868.6,288.1 L867.2,291.3 L865.9,294.5 L864.5,297.6 L862.6,300.8 L860.7,303.9 L858.8,307.1 L856.8,310.2 L854.4,312.8 L852.0,315.3 L849.6,317.8 L847.2,320.4 L844.2,322.3 L841.2,324.1 L838.1,326.0 L835.1,327.9 L832.4,328.9 L829.8,329.9 L827.1,331.0 L824.5,332.0 L821.9,332.6 L819.3,333.2 L816.7,333.9 L814.1,334.5 L811.6,335.1 L809.1,335.8 L806.6,336.4 L804.1,337.0 L801.2,337.4 L798.4,337.9 L795.6,338.3 L792.8,338.7 L787.4,340.3 L782.0,341.9 L776.6,343.5 L771.3,345.1 L767.8,346.5 L764.3,348.0 L760.8,349.4 L757.3,350.8 L755.1,352.4 L752.9,354.0 L750.7,355.5 L748.5,357.1 L747.2,359.3 L745.9,361.6 L744.6,363.8 L743.4,366.0 L742.9,367.8 L742.4,369.5 L742.0,371.2 L741.5,373.0 L741.4,374.0 L741.4,375.0 L741.3,376.0 L741.3,377.0"/><path d="M891.3,226.7 L889.1,233.3 L886.9,239.8 L884.6,246.4 L882.4,253.0 L880.2,258.7 L878.0,264.4 L875.7,270.1 L873.5,275.8 L872.8,278.1 L872.1,280.4 L871.4,282.7 L870.7,285.0 L869.4,288.1 L868.0,291.3 L866.7,294.5 L865.3,297.6 L863.4,300.8 L861.5,303.9 L859.6,307.1 L857.7,310.2 L855.3,312.8 L852.9,315.3 L850.5,317.8 L848.1,320.4 L845.0,322.3 L842.0,324.1 L838.9,326.0 L835.9,327.9 L833.2,328.9 L830.6,329.9 L827.9,331.0 L825.3,332.0 L822.7,332.6 L820.1,333.2 L817.5,333.9 L814.9,334.5 L812.4,335.1 L809.9,335.8 L807.4,336.4 L804.9,337.0 L802.0,337.4 L799.2,337.9 L796.4,338.3 L793.6,338.7 L788.2,340.3 L782.8,341.9 L777.5,343.5 L772.1,345.1 L768.6,346.5 L765.1,348.0 L761.6,349.4 L758.1,350.8 L755.9,352.4 L753.7,354.0 L751.5,355.5 L749.3,357.1 L748.0,359.3 L746.7,361.6 L745.5,363.8 L744.2,366.0 L743.7,367.8 L743.2,369.5 L742.8,371.2 L742.3,373.0 L742.2,374.0 L742.2,375.0 L742.1,376.0 L742.1,377.0"/><path d="M892.1,226.7 L889.9,233.3 L887.7,239.8 L885.4,246.4 L883.2,253.0 L881.0,258.7 L878.8,264.4 L876.6,270.1 L874.3,275.8 L873.6,278.1 L872.9,280.4 L872.2,282.7 L871.5,285.0 L870.2,288.1 L868.8,291.3 L867.5,294.5 L866.2,297.6 L864.2,300.8 L862.3,303.9 L860.4,307.1 L858.5,310.2 L856.1,312.8 L853.7,315.3 L851.3,317.8 L848.9,320.4 L845.8,322.3 L842.8,324.1 L839.7,326.0 L836.7,327.9 L834.0,328.9 L831.4,329.9 L828.7,331.0 L826.1,332.0 L823.5,332.6 L820.9,333.2 L818.3,333.9 L815.7,334.5 L813.2,335.1 L810.7,335.8 L808.2,336.4 L805.7,337.0 L802.9,337.4 L800.0,337.9 L797.2,338.3 L794.4,338.7 L789.0,340.3 L783.6,341.9 L778.3,343.5 L772.9,345.1 L769.4,346.5 L765.9,348.0 L762.4,349.4 L758.9,350.8 L756.7,352.4 L754.5,354.0 L752.3,355.5 L750.1,357.1 L748.8,359.3 L747.6,361.6 L746.3,363.8 L745.0,366.0 L744.5,367.8 L744.1,369.5 L743.6,371.2 L743.1,373.0 L743.1,374.0 L743.0,375.0 L743.0,376.0 L742.9,377.0"/><path d="M892.9,226.7 L890.7,233.3 L888.5,239.8 L886.2,246.4 L884.0,253.0 L881.8,258.7 L879.6,264.4 L877.4,270.1 L875.1,275.8 L874.4,278.1 L873.7,280.4 L873.0,282.7 L872.3,285.0 L871.0,288.1 L869.7,291.3 L868.3,294.5 L867.0,297.6 L865.0,300.8 L863.1,303.9 L861.2,307.1 L859.3,310.2 L856.9,312.8 L854.5,315.3 L852.1,317.8 L849.7,320.4 L846.6,322.3 L843.6,324.1 L840.5,326.0 L837.5,327.9 L834.8,328.9 L832.2,329.9 L829.5,331.0 L826.9,332.0 L824.3,332.6 L821.7,333.2 L819.1,333.9 L816.5,334.5 L814.0,335.1 L811.5,335.8 L809.0,336.4 L806.5,337.0 L803.7,337.4 L800.8,337.9 L798.0,338.3 L795.2,338.7 L789.8,340.3 L784.4,341.9 L779.1,343.5 L773.7,345.1 L770.2,346.5 L766.7,348.0 L763.2,349.4 L759.7,350.8 L757.5,352.4 L755.3,354.0 L753.1,355.5 L750.9,357.1 L749.6,359.3 L748.4,361.6 L747.1,363.8 L745.8,366.0 L745.3,367.8 L744.9,369.5 L744.4,371.2 L743.9,373.0 L743.9,374.0 L743.8,375.0 L743.8,376.0 L743.7,377.0"/><path d="M893.7,226.7 L891.5,233.3 L889.3,239.8 L887.0,246.4 L884.8,253.0 L882.6,258.7 L880.4,264.4 L878.2,270.1 L875.9,275.8 L875.2,278.1 L874.5,280.4 L873.8,282.7 L873.2,285.0 L871.8,288.1 L870.5,291.3 L869.1,294.5 L867.8,297.6 L865.8,300.8 L863.9,303.9 L862.0,307.1 L860.1,310.2 L857.7,312.8 L855.3,315.3 L852.9,317.8 L850.5,320.4 L847.4,322.3 L844.4,324.1 L841.3,326.0 L838.3,327.9 L835.6,328.9 L833.0,329.9 L830.4,331.0 L827.7,332.0 L825.1,332.6 L822.5,333.2 L819.9,333.9 L817.3,334.5 L814.8,335.1 L812.3,335.8 L809.8,336.4 L807.3,337.0 L804.5,337.4 L801.7,337.9 L798.8,338.3 L796.0,338.7 L790.6,340.3 L785.3,341.9 L779.9,343.5 L774.5,345.1 L771.0,346.5 L767.5,348.0 L764.0,349.4 L760.5,350.8 L758.3,352.4 L756.1,354.0 L753.9,355.5 L751.7,357.1 L750.5,359.3 L749.2,361.6 L747.9,363.8 L746.6,366.0 L746.2,367.8 L745.7,369.5 L745.2,371.2 L744.7,373.0 L744.7,374.0 L744.6,375.0 L744.6,376.0 L744.5,377.0"/><path d="M894.5,226.7 L892.3,233.3 L890.1,239.8 L887.8,246.4 L885.6,253.0 L883.4,258.7 L881.2,264.4 L879.0,270.1 L876.7,275.8 L876.1,278.1 L875.4,280.4 L874.7,282.7 L874.0,285.0 L872.6,288.1 L871.3,291.3 L869.9,294.5 L868.6,297.6 L866.7,300.8 L864.7,303.9 L862.8,307.1 L860.9,310.2 L858.5,312.8 L856.1,315.3 L853.7,317.8 L851.3,320.4 L848.3,322.3 L845.2,324.1 L842.2,326.0 L839.1,327.9 L836.5,328.9 L833.8,329.9 L831.2,331.0 L828.5,332.0 L825.9,332.6 L823.3,333.2 L820.7,333.9 L818.1,334.5 L815.6,335.1 L813.1,335.8 L810.6,336.4 L808.1,337.0 L805.3,337.4 L802.5,337.9 L799.6,338.3 L796.8,338.7 L791.4,340.3 L786.1,341.9 L780.7,343.5 L775.3,345.1 L771.8,346.5 L768.3,348.0 L764.8,349.4 L761.3,350.8 L759.1,352.4 L756.9,354.0 L754.7,355.5 L752.5,357.1 L751.3,359.3 L750.0,361.6 L748.7,363.8 L747.5,366.0 L747.0,367.8 L746.5,369.5 L746.0,371.2 L745.6,373.0 L745.5,374.0 L745.5,375.0 L745.4,376.0 L745.4,377.0"/><path d="M895.3,226.7 L893.1,233.3 L890.9,239.8 L888.6,246.4 L886.4,253.0 L884.2,258.7 L882.0,264.4 L879.8,270.1 L877.6,275.8 L876.9,278.1 L876.2,280.4 L875.5,282.7 L874.8,285.0 L873.4,288.1 L872.1,291.3 L870.7,294.5 L869.4,297.6 L867.5,300.8 L865.5,303.9 L863.6,307.1 L861.7,310.2 L859.3,312.8 L856.9,315.3 L854.5,317.8 L852.1,320.4 L849.1,322.3 L846.0,324.1 L843.0,326.0 L839.9,327.9 L837.3,328.9 L834.6,329.9 L832.0,331.0 L829.3,332.0 L826.7,332.6 L824.1,333.2 L821.5,333.9 L818.9,334.5 L816.4,335.1 L813.9,335.8 L811.4,336.4 L808.9,337.0 L806.1,337.4 L803.3,337.9 L800.5,338.3 L797.6,338.7 L792.3,340.3 L786.9,341.9 L781.5,343.5 L776.1,345.1 L772.6,346.5 L769.1,348.0 L765.6,349.4 L762.1,350.8 L759.9,352.4 L757.8,354.0 L755.6,355.5 L753.4,357.1 L752.1,359.3 L750.8,361.6 L749.5,363.8 L748.3,366.0 L747.8,367.8 L747.3,369.5 L746.8,371.2 L746.4,373.0 L746.3,374.0 L746.3,375.0 L746.2,376.0 L746.2,377.0"/></g>
<g clip-path="url(#c3)" fill="none" stroke="#06f80c" stroke-width="3.4" stroke-linejoin="round"><path d="M883.1,226.7 L881.5,231.7 L879.9,236.7 L878.3,241.7 L876.7,246.7 L875.5,251.4 L874.2,256.2 L872.9,260.9 L871.6,265.7 L870.4,270.8 L869.1,275.9 L867.9,280.9 L866.6,286.0 L865.8,290.5 L865.0,295.0 L864.1,299.5 L863.3,304.0 L862.5,308.8 L861.6,313.5 L860.7,318.2 L859.9,323.0 L858.9,328.7 L858.0,334.4 L857.0,340.1 L856.1,345.8 L855.1,352.9 L854.2,359.9 L853.2,366.9 L852.3,374.0 L851.8,379.0 L851.3,384.0 L850.8,389.0 L850.2,394.0 L849.5,398.8 L848.8,403.5 L848.1,408.2 L847.4,413.0 L846.7,419.4 L845.9,425.7 L845.1,432.0 L844.3,438.4 L843.7,442.5 L843.1,446.7 L842.5,450.9 L841.9,455.0 L841.4,457.5 L840.9,460.0 L840.3,462.5 L839.8,465.0 L838.3,467.9 L836.8,470.8 L835.2,473.6 L833.5,476.5 L830.6,479.4 L827.6,482.2 L824.6,485.1 L821.7,488.0 L819.0,490.9 L816.3,493.7 L813.5,496.5 L810.8,499.4 L809.2,502.5 L807.5,505.7 L805.9,508.9 L804.2,512.0 L803.1,515.5 L802.1,519.0 L801.3,522.5 L800.5,526.0 L800.5,528.9 L800.6,531.8 L800.6,534.7 L800.6,537.6 L800.8,540.5 L801.0,543.3 L801.1,546.1 L801.3,549.0 L801.6,552.5 L801.8,556.0 L802.1,559.5 L802.3,563.0 L802.8,566.8 L803.4,570.6 L803.9,574.4 L804.4,578.2 L805.2,582.0 L805.8,585.8 L806.4,589.6 L806.9,593.4 L807.9,596.5 L808.8,599.7 L809.7,602.9 L810.6,606.0 L811.1,607.0 L811.7,608.0 L812.2,609.0 L812.7,610.0"/><path d="M883.8,226.7 L882.2,231.7 L880.7,236.7 L879.1,241.7 L877.5,246.7 L876.2,251.4 L875.0,256.2 L873.7,260.9 L872.4,265.7 L871.1,270.8 L869.9,275.9 L868.6,280.9 L867.4,286.0 L866.6,290.5 L865.7,295.0 L864.9,299.5 L864.1,304.0 L863.2,308.8 L862.4,313.5 L861.5,318.2 L860.7,323.0 L859.7,328.7 L858.8,334.4 L857.8,340.1 L856.9,345.8 L855.9,352.9 L854.9,359.9 L854.0,366.9 L853.0,374.0 L852.5,379.0 L852.0,384.0 L851.5,389.0 L851.0,394.0 L850.3,398.8 L849.6,403.5 L848.9,408.2 L848.2,413.0 L847.4,419.4 L846.7,425.7 L845.9,432.0 L845.1,438.4 L844.5,442.5 L843.9,446.7 L843.3,450.9 L842.7,455.0 L842.2,457.5 L841.6,460.0 L841.1,462.5 L840.6,465.0 L839.1,467.9 L837.6,470.8 L835.9,473.6 L834.3,476.5 L831.4,479.4 L828.4,482.2 L825.5,485.1 L822.6,488.0 L819.8,490.9 L817.1,493.7 L814.3,496.5 L811.6,499.4 L810.0,502.5 L808.4,505.7 L806.8,508.9 L805.1,512.0 L804.1,515.5 L803.2,519.0 L802.4,522.5 L801.6,526.0 L801.7,528.9 L801.7,531.8 L801.8,534.7 L801.8,537.6 L802.0,540.5 L802.2,543.3 L802.4,546.1 L802.6,549.0 L802.9,552.5 L803.2,556.0 L803.5,559.5 L803.8,563.0 L804.3,566.8 L804.9,570.6 L805.4,574.4 L806.0,578.2 L806.9,582.0 L807.6,585.8 L808.2,589.6 L808.9,593.4 L809.9,596.5 L810.9,599.7 L811.9,602.9 L812.9,606.0 L813.4,607.0 L813.9,608.0 L814.4,609.0 L815.0,610.0"/><path d="M884.6,226.7 L883.0,231.7 L881.4,236.7 L879.9,241.7 L878.3,246.7 L877.0,251.4 L875.7,256.2 L874.4,260.9 L873.2,265.7 L871.9,270.8 L870.7,275.9 L869.4,280.9 L868.2,286.0 L867.3,290.5 L866.5,295.0 L865.7,299.5 L864.9,304.0 L864.0,308.8 L863.1,313.5 L862.3,318.2 L861.4,323.0 L860.5,328.7 L859.5,334.4 L858.6,340.1 L857.6,345.8 L856.7,352.9 L855.7,359.9 L854.8,366.9 L853.8,374.0 L853.3,379.0 L852.8,384.0 L852.3,389.0 L851.8,394.0 L851.1,398.8 L850.4,403.5 L849.7,408.2 L849.0,413.0 L848.2,419.4 L847.4,425.7 L846.7,432.0 L845.9,438.4 L845.3,442.5 L844.7,446.7 L844.1,450.9 L843.5,455.0 L842.9,457.5 L842.4,460.0 L841.9,462.5 L841.4,465.0 L839.9,467.9 L838.3,470.8 L836.7,473.6 L835.1,476.5 L832.2,479.4 L829.3,482.2 L826.3,485.1 L823.4,488.0 L820.7,490.9 L817.9,493.7 L815.1,496.5 L812.4,499.4 L810.9,502.5 L809.3,505.7 L807.7,508.9 L806.1,512.0 L805.1,515.5 L804.2,519.0 L803.5,522.5 L802.7,526.0 L802.8,528.9 L802.9,531.8 L802.9,534.7 L803.0,537.6 L803.3,540.5 L803.5,543.3 L803.7,546.1 L804.0,549.0 L804.3,552.5 L804.6,556.0 L804.9,559.5 L805.2,563.0 L805.8,566.8 L806.4,570.6 L807.0,574.4 L807.6,578.2 L808.6,582.0 L809.3,585.8 L810.1,589.6 L810.8,593.4 L811.9,596.5 L813.0,599.7 L814.0,602.9 L815.1,606.0 L815.6,607.0 L816.2,608.0 L816.7,609.0 L817.2,610.0"/><path d="M885.4,226.7 L883.8,231.7 L882.2,236.7 L880.6,241.7 L879.0,246.7 L877.8,251.4 L876.5,256.2 L875.2,260.9 L873.9,265.7 L872.7,270.8 L871.4,275.9 L870.2,280.9 L868.9,286.0 L868.1,290.5 L867.3,295.0 L866.4,299.5 L865.6,304.0 L864.8,308.8 L863.9,313.5 L863.1,318.2 L862.2,323.0 L861.3,328.7 L860.3,334.4 L859.4,340.1 L858.4,345.8 L857.4,352.9 L856.5,359.9 L855.5,366.9 L854.6,374.0 L854.1,379.0 L853.6,384.0 L853.1,389.0 L852.6,394.0 L851.9,398.8 L851.2,403.5 L850.5,408.2 L849.8,413.0 L849.0,419.4 L848.2,425.7 L847.4,432.0 L846.7,438.4 L846.1,442.5 L845.5,446.7 L844.9,450.9 L844.3,455.0 L843.7,457.5 L843.2,460.0 L842.7,462.5 L842.1,465.0 L840.6,467.9 L839.1,470.8 L837.5,473.6 L836.0,476.5 L833.0,479.4 L830.1,482.2 L827.1,485.1 L824.3,488.0 L821.5,490.9 L818.7,493.7 L816.0,496.5 L813.2,499.4 L811.7,502.5 L810.1,505.7 L808.6,508.9 L807.0,512.0 L806.1,515.5 L805.3,519.0 L804.5,522.5 L803.8,526.0 L803.9,528.9 L804.0,531.8 L804.1,534.7 L804.2,537.6 L804.5,540.5 L804.8,543.3 L805.0,546.1 L805.3,549.0 L805.6,552.5 L806.0,556.0 L806.3,559.5 L806.7,563.0 L807.3,566.8 L807.9,570.6 L808.6,574.4 L809.2,578.2 L810.3,582.0 L811.1,585.8 L812.0,589.6 L812.8,593.4 L813.9,596.5 L815.1,599.7 L816.2,602.9 L817.4,606.0 L817.9,607.0 L818.4,608.0 L818.9,609.0 L819.5,610.0"/><path d="M886.1,226.7 L884.5,231.7 L883.0,236.7 L881.4,241.7 L879.8,246.7 L878.5,251.4 L877.3,256.2 L876.0,260.9 L874.7,265.7 L873.5,270.8 L872.2,275.9 L871.0,280.9 L869.7,286.0 L868.9,290.5 L868.0,295.0 L867.2,299.5 L866.4,304.0 L865.5,308.8 L864.7,313.5 L863.8,318.2 L863.0,323.0 L862.0,328.7 L861.1,334.4 L860.1,340.1 L859.2,345.8 L858.2,352.9 L857.3,359.9 L856.3,366.9 L855.4,374.0 L854.9,379.0 L854.4,384.0 L853.9,389.0 L853.4,394.0 L852.7,398.8 L852.0,403.5 L851.3,408.2 L850.6,413.0 L849.8,419.4 L849.0,425.7 L848.2,432.0 L847.4,438.4 L846.8,442.5 L846.2,446.7 L845.6,450.9 L845.0,455.0 L844.5,457.5 L844.0,460.0 L843.5,462.5 L842.9,465.0 L841.4,467.9 L839.9,470.8 L838.3,473.6 L836.8,476.5 L833.8,479.4 L830.9,482.2 L828.0,485.1 L825.1,488.0 L822.3,490.9 L819.5,493.7 L816.8,496.5 L814.0,499.4 L812.5,502.5 L811.0,505.7 L809.5,508.9 L807.9,512.0 L807.1,515.5 L806.3,519.0 L805.6,522.5 L804.9,526.0 L805.0,528.9 L805.2,531.8 L805.3,534.7 L805.4,537.6 L805.7,540.5 L806.0,543.3 L806.3,546.1 L806.6,549.0 L807.0,552.5 L807.4,556.0 L807.7,559.5 L808.1,563.0 L808.8,566.8 L809.5,570.6 L810.2,574.4 L810.8,578.2 L811.9,582.0 L812.9,585.8 L813.8,589.6 L814.7,593.4 L816.0,596.5 L817.2,599.7 L818.4,602.9 L819.6,606.0 L820.1,607.0 L820.7,608.0 L821.2,609.0 L821.7,610.0"/><path d="M886.9,226.7 L885.3,231.7 L883.7,236.7 L882.2,241.7 L880.6,246.7 L879.3,251.4 L878.0,256.2 L876.8,260.9 L875.5,265.7 L874.2,270.8 L873.0,275.9 L871.7,280.9 L870.5,286.0 L869.6,290.5 L868.8,295.0 L868.0,299.5 L867.2,304.0 L866.3,308.8 L865.5,313.5 L864.6,318.2 L863.8,323.0 L862.8,328.7 L861.9,334.4 L860.9,340.1 L860.0,345.8 L859.0,352.9 L858.0,359.9 L857.1,366.9 L856.1,374.0 L855.6,379.0 L855.1,384.0 L854.6,389.0 L854.1,394.0 L853.4,398.8 L852.7,403.5 L852.0,408.2 L851.3,413.0 L850.6,419.4 L849.8,425.7 L849.0,432.0 L848.2,438.4 L847.6,442.5 L847.0,446.7 L846.4,450.9 L845.8,455.0 L845.3,457.5 L844.8,460.0 L844.2,462.5 L843.7,465.0 L842.2,467.9 L840.7,470.8 L839.1,473.6 L837.6,476.5 L834.6,479.4 L831.7,482.2 L828.8,485.1 L825.9,488.0 L823.2,490.9 L820.4,493.7 L817.6,496.5 L814.8,499.4 L813.4,502.5 L811.9,505.7 L810.4,508.9 L808.9,512.0 L808.1,515.5 L807.3,519.0 L806.7,522.5 L806.0,526.0 L806.2,528.9 L806.3,531.8 L806.5,534.7 L806.7,537.6 L807.0,540.5 L807.3,543.3 L807.6,546.1 L807.9,549.0 L808.3,552.5 L808.8,556.0 L809.2,559.5 L809.6,563.0 L810.3,566.8 L811.0,570.6 L811.7,574.4 L812.4,578.2 L813.6,582.0 L814.6,585.8 L815.7,589.6 L816.7,593.4 L818.0,596.5 L819.3,599.7 L820.6,602.9 L821.9,606.0 L822.4,607.0 L822.9,608.0 L823.4,609.0 L824.0,610.0"/><path d="M887.7,226.7 L886.1,231.7 L884.5,236.7 L882.9,241.7 L881.4,246.7 L880.1,251.4 L878.8,256.2 L877.5,260.9 L876.3,265.7 L875.0,270.8 L873.7,275.9 L872.5,280.9 L871.2,286.0 L870.4,290.5 L869.6,295.0 L868.8,299.5 L867.9,304.0 L867.1,308.8 L866.2,313.5 L865.4,318.2 L864.5,323.0 L863.6,328.7 L862.6,334.4 L861.7,340.1 L860.7,345.8 L859.8,352.9 L858.8,359.9 L857.9,366.9 L856.9,374.0 L856.4,379.0 L855.9,384.0 L855.4,389.0 L854.9,394.0 L854.2,398.8 L853.5,403.5 L852.8,408.2 L852.1,413.0 L851.3,419.4 L850.6,425.7 L849.8,432.0 L849.0,438.4 L848.4,442.5 L847.8,446.7 L847.2,450.9 L846.6,455.0 L846.1,457.5 L845.5,460.0 L845.0,462.5 L844.5,465.0 L843.0,467.9 L841.5,470.8 L839.9,473.6 L838.4,476.5 L835.5,479.4 L832.6,482.2 L829.7,485.1 L826.8,488.0 L824.0,490.9 L821.2,493.7 L818.4,496.5 L815.6,499.4 L814.2,502.5 L812.7,505.7 L811.3,508.9 L809.8,512.0 L809.1,515.5 L808.4,519.0 L807.7,522.5 L807.1,526.0 L807.3,528.9 L807.5,531.8 L807.7,534.7 L807.9,537.6 L808.2,540.5 L808.5,543.3 L808.9,546.1 L809.2,549.0 L809.7,552.5 L810.1,556.0 L810.6,559.5 L811.0,563.0 L811.8,566.8 L812.5,570.6 L813.3,574.4 L814.1,578.2 L815.3,582.0 L816.4,585.8 L817.5,589.6 L818.6,593.4 L820.0,596.5 L821.4,599.7 L822.8,602.9 L824.1,606.0 L824.7,607.0 L825.2,608.0 L825.7,609.0 L826.2,610.0"/><path d="M888.4,226.7 L886.9,231.7 L885.3,236.7 L883.7,241.7 L882.1,246.7 L880.8,251.4 L879.6,256.2 L878.3,260.9 L877.0,265.7 L875.8,270.8 L874.5,275.9 L873.3,280.9 L872.0,286.0 L871.2,290.5 L870.4,295.0 L869.5,299.5 L868.7,304.0 L867.9,308.8 L867.0,313.5 L866.2,318.2 L865.3,323.0 L864.4,328.7 L863.4,334.4 L862.5,340.1 L861.5,345.8 L860.5,352.9 L859.6,359.9 L858.6,366.9 L857.7,374.0 L857.2,379.0 L856.7,384.0 L856.2,389.0 L855.7,394.0 L855.0,398.8 L854.3,403.5 L853.6,408.2 L852.9,413.0 L852.1,419.4 L851.3,425.7 L850.6,432.0 L849.8,438.4 L849.2,442.5 L848.6,446.7 L848.0,450.9 L847.4,455.0 L846.9,457.5 L846.3,460.0 L845.8,462.5 L845.3,465.0 L843.8,467.9 L842.3,470.8 L840.7,473.6 L839.2,476.5 L836.3,479.4 L833.4,482.2 L830.5,485.1 L827.6,488.0 L824.8,490.9 L822.0,493.7 L819.2,496.5 L816.4,499.4 L815.0,502.5 L813.6,505.7 L812.2,508.9 L810.8,512.0 L810.1,515.5 L809.4,519.0 L808.8,522.5 L808.2,526.0 L808.4,528.9 L808.6,531.8 L808.9,534.7 L809.1,537.6 L809.4,540.5 L809.8,543.3 L810.2,546.1 L810.5,549.0 L811.0,552.5 L811.5,556.0 L812.0,559.5 L812.5,563.0 L813.3,566.8 L814.1,570.6 L814.9,574.4 L815.7,578.2 L817.0,582.0 L818.2,585.8 L819.4,589.6 L820.6,593.4 L822.0,596.5 L823.5,599.7 L824.9,602.9 L826.4,606.0 L826.9,607.0 L827.4,608.0 L828.0,609.0 L828.5,610.0"/><path d="M889.2,226.7 L887.6,231.7 L886.0,236.7 L884.5,241.7 L882.9,246.7 L881.6,251.4 L880.3,256.2 L879.1,260.9 L877.8,265.7 L876.5,270.8 L875.3,275.9 L874.0,280.9 L872.8,286.0 L872.0,290.5 L871.1,295.0 L870.3,299.5 L869.5,304.0 L868.6,308.8 L867.8,313.5 L866.9,318.2 L866.1,323.0 L865.1,328.7 L864.2,334.4 L863.2,340.1 L862.3,345.8 L861.3,352.9 L860.4,359.9 L859.4,366.9 L858.5,374.0 L858.0,379.0 L857.5,384.0 L857.0,389.0 L856.5,394.0 L855.8,398.8 L855.1,403.5 L854.4,408.2 L853.7,413.0 L852.9,419.4 L852.1,425.7 L851.3,432.0 L850.6,438.4 L850.0,442.5 L849.4,446.7 L848.8,450.9 L848.2,455.0 L847.6,457.5 L847.1,460.0 L846.6,462.5 L846.1,465.0 L844.6,467.9 L843.0,470.8 L841.5,473.6 L840.0,476.5 L837.1,479.4 L834.2,482.2 L831.3,485.1 L828.5,488.0 L825.7,490.9 L822.8,493.7 L820.0,496.5 L817.2,499.4 L815.8,502.5 L814.5,505.7 L813.1,508.9 L811.7,512.0 L811.1,515.5 L810.4,519.0 L809.9,522.5 L809.3,526.0 L809.5,528.9 L809.8,531.8 L810.0,534.7 L810.3,537.6 L810.7,540.5 L811.1,543.3 L811.5,546.1 L811.9,549.0 L812.4,552.5 L812.9,556.0 L813.4,559.5 L813.9,563.0 L814.8,566.8 L815.6,570.6 L816.4,574.4 L817.3,578.2 L818.6,582.0 L819.9,585.8 L821.2,589.6 L822.5,593.4 L824.1,596.5 L825.6,599.7 L827.1,602.9 L828.6,606.0 L829.2,607.0 L829.7,608.0 L830.2,609.0 L830.7,610.0"/><path d="M890.0,226.7 L888.4,231.7 L886.8,236.7 L885.2,241.7 L883.7,246.7 L882.4,251.4 L881.1,256.2 L879.8,260.9 L878.6,265.7 L877.3,270.8 L876.1,275.9 L874.8,280.9 L873.6,286.0 L872.7,290.5 L871.9,295.0 L871.1,299.5 L870.3,304.0 L869.4,308.8 L868.6,313.5 L867.7,318.2 L866.9,323.0 L865.9,328.7 L865.0,334.4 L864.0,340.1 L863.1,345.8 L862.1,352.9 L861.1,359.9 L860.2,366.9 L859.2,374.0 L858.7,379.0 L858.2,384.0 L857.7,389.0 L857.2,394.0 L856.5,398.8 L855.8,403.5 L855.1,408.2 L854.4,413.0 L853.7,419.4 L852.9,425.7 L852.1,432.0 L851.3,438.4 L850.7,442.5 L850.1,446.7 L849.5,450.9 L848.9,455.0 L848.4,457.5 L847.9,460.0 L847.4,462.5 L846.8,465.0 L845.3,467.9 L843.8,470.8 L842.3,473.6 L840.8,476.5 L837.9,479.4 L835.0,482.2 L832.2,485.1 L829.3,488.0 L826.5,490.9 L823.7,493.7 L820.8,496.5 L818.0,499.4 L816.7,502.5 L815.3,505.7 L814.0,508.9 L812.6,512.0 L812.0,515.5 L811.5,519.0 L810.9,522.5 L810.4,526.0 L810.7,528.9 L810.9,531.8 L811.2,534.7 L811.5,537.6 L811.9,540.5 L812.3,543.3 L812.7,546.1 L813.2,549.0 L813.7,552.5 L814.3,556.0 L814.8,559.5 L815.4,563.0 L816.3,566.8 L817.1,570.6 L818.0,574.4 L818.9,578.2 L820.3,582.0 L821.7,585.8 L823.1,589.6 L824.5,593.4 L826.1,596.5 L827.7,599.7 L829.3,602.9 L830.9,606.0 L831.4,607.0 L831.9,608.0 L832.5,609.0 L833.0,610.0"/><path d="M890.7,226.7 L889.2,231.7 L887.6,236.7 L886.0,241.7 L884.4,246.7 L883.2,251.4 L881.9,256.2 L880.6,260.9 L879.3,265.7 L878.1,270.8 L876.8,275.9 L875.6,280.9 L874.3,286.0 L873.5,290.5 L872.7,295.0 L871.9,299.5 L871.0,304.0 L870.2,308.8 L869.3,313.5 L868.5,318.2 L867.6,323.0 L866.7,328.7 L865.7,334.4 L864.8,340.1 L863.8,345.8 L862.9,352.9 L861.9,359.9 L861.0,366.9 L860.0,374.0 L859.5,379.0 L859.0,384.0 L858.5,389.0 L858.0,394.0 L857.3,398.8 L856.6,403.5 L855.9,408.2 L855.2,413.0 L854.4,419.4 L853.7,425.7 L852.9,432.0 L852.1,438.4 L851.5,442.5 L850.9,446.7 L850.3,450.9 L849.7,455.0 L849.2,457.5 L848.7,460.0 L848.1,462.5 L847.6,465.0 L846.1,467.9 L844.6,470.8 L843.1,473.6 L841.6,476.5 L838.7,479.4 L835.9,482.2 L833.0,485.1 L830.2,488.0 L827.3,490.9 L824.5,493.7 L821.6,496.5 L818.8,499.4 L817.5,502.5 L816.2,505.7 L814.9,508.9 L813.6,512.0 L813.0,515.5 L812.5,519.0 L812.0,522.5 L811.5,526.0 L811.8,528.9 L812.1,531.8 L812.4,534.7 L812.7,537.6 L813.1,540.5 L813.6,543.3 L814.0,546.1 L814.5,549.0 L815.1,552.5 L815.7,556.0 L816.3,559.5 L816.8,563.0 L817.8,566.8 L818.7,570.6 L819.6,574.4 L820.5,578.2 L822.0,582.0 L823.5,585.8 L825.0,589.6 L826.4,593.4 L828.1,596.5 L829.8,599.7 L831.5,602.9 L833.1,606.0 L833.7,607.0 L834.2,608.0 L834.7,609.0 L835.2,610.0"/><path d="M891.5,226.7 L889.9,231.7 L888.4,236.7 L886.8,241.7 L885.2,246.7 L883.9,251.4 L882.7,256.2 L881.4,260.9 L880.1,265.7 L878.9,270.8 L877.6,275.9 L876.4,280.9 L875.1,286.0 L874.3,290.5 L873.5,295.0 L872.6,299.5 L871.8,304.0 L870.9,308.8 L870.1,313.5 L869.2,318.2 L868.4,323.0 L867.5,328.7 L866.5,334.4 L865.5,340.1 L864.6,345.8 L863.6,352.9 L862.7,359.9 L861.8,366.9 L860.8,374.0 L860.3,379.0 L859.8,384.0 L859.3,389.0 L858.8,394.0 L858.1,398.8 L857.4,403.5 L856.7,408.2 L856.0,413.0 L855.2,419.4 L854.5,425.7 L853.7,432.0 L852.9,438.4 L852.3,442.5 L851.7,446.7 L851.1,450.9 L850.5,455.0 L850.0,457.5 L849.5,460.0 L848.9,462.5 L848.4,465.0 L846.9,467.9 L845.4,470.8 L843.9,473.6 L842.4,476.5 L839.5,479.4 L836.7,482.2 L833.9,485.1 L831.0,488.0 L828.1,490.9 L825.3,493.7 L822.5,496.5 L819.6,499.4 L818.3,502.5 L817.0,505.7 L815.8,508.9 L814.5,512.0 L814.0,515.5 L813.5,519.0 L813.1,522.5 L812.6,526.0 L812.9,528.9 L813.2,531.8 L813.6,534.7 L813.9,537.6 L814.4,540.5 L814.8,543.3 L815.3,546.1 L815.8,549.0 L816.4,552.5 L817.0,556.0 L817.7,559.5 L818.3,563.0 L819.2,566.8 L820.2,570.6 L821.1,574.4 L822.1,578.2 L823.7,582.0 L825.2,585.8 L826.8,589.6 L828.4,593.4 L830.1,596.5 L831.9,599.7 L833.6,602.9 L835.4,606.0 L835.9,607.0 L836.5,608.0 L837.0,609.0 L837.5,610.0"/><path d="M892.3,226.7 L890.7,231.7 L889.2,236.7 L887.6,241.7 L886.0,246.7 L884.7,251.4 L883.5,256.2 L882.2,260.9 L880.9,265.7 L879.7,270.8 L878.4,275.9 L877.2,280.9 L875.9,286.0 L875.1,290.5 L874.3,295.0 L873.4,299.5 L872.6,304.0 L871.8,308.8 L870.9,313.5 L870.1,318.2 L869.2,323.0 L868.3,328.7 L867.3,334.4 L866.4,340.1 L865.4,345.8 L864.5,352.9 L863.5,359.9 L862.6,366.9 L861.6,374.0 L861.1,379.0 L860.6,384.0 L860.1,389.0 L859.6,394.0 L858.9,398.8 L858.2,403.5 L857.5,408.2 L856.8,413.0 L856.0,419.4 L855.3,425.7 L854.5,432.0 L853.7,438.4 L853.1,442.5 L852.5,446.7 L851.9,450.9 L851.3,455.0 L850.8,457.5 L850.3,460.0 L849.8,462.5 L849.2,465.0 L847.7,467.9 L846.2,470.8 L844.8,473.6 L843.4,476.5 L840.6,479.4 L837.9,482.2 L835.1,485.1 L832.3,488.0 L829.5,490.9 L826.6,493.7 L823.7,496.5 L820.8,499.4 L819.5,502.5 L818.2,505.7 L817.0,508.9 L815.7,512.0 L815.2,515.5 L814.7,519.0 L814.2,522.5 L813.7,526.0 L814.1,528.9 L814.4,531.8 L814.8,534.7 L815.1,537.6 L815.6,540.5 L816.1,543.3 L816.6,546.1 L817.1,549.0 L817.7,552.5 L818.4,556.0 L819.1,559.5 L819.7,563.0 L820.8,566.8 L821.8,570.6 L822.8,574.4 L823.8,578.2 L825.4,582.0 L827.0,585.8 L828.7,589.6 L830.3,593.4 L832.1,596.5 L833.9,599.7 L835.7,602.9 L837.5,606.0 L838.0,607.0 L838.5,608.0 L839.0,609.0 L839.6,610.0"/><path d="M893.1,226.7 L891.5,231.7 L890.0,236.7 L888.4,241.7 L886.8,246.7 L885.5,251.4 L884.3,256.2 L883.0,260.9 L881.7,265.7 L880.5,270.8 L879.2,275.9 L878.0,280.9 L876.7,286.0 L875.9,290.5 L875.1,295.0 L874.2,299.5 L873.4,304.0 L872.6,308.8 L871.7,313.5 L870.9,318.2 L870.0,323.0 L869.1,328.7 L868.1,334.4 L867.2,340.1 L866.2,345.8 L865.3,352.9 L864.3,359.9 L863.4,366.9 L862.4,374.0 L861.9,379.0 L861.4,384.0 L860.9,389.0 L860.4,394.0 L859.7,398.8 L859.0,403.5 L858.3,408.2 L857.6,413.0 L856.9,419.4 L856.1,425.7 L855.3,432.0 L854.5,438.4 L853.9,442.5 L853.3,446.7 L852.8,450.9 L852.2,455.0 L851.6,457.5 L851.1,460.0 L850.6,462.5 L850.1,465.0 L848.6,467.9 L847.1,470.8 L845.8,473.6 L844.4,476.5 L841.8,479.4 L839.1,482.2 L836.4,485.1 L833.7,488.0 L830.8,490.9 L827.9,493.7 L825.0,496.5 L822.1,499.4 L820.8,502.5 L819.4,505.7 L818.1,508.9 L816.8,512.0 L816.3,515.5 L815.9,519.0 L815.4,522.5 L814.9,526.0 L815.2,528.9 L815.6,531.8 L815.9,534.7 L816.3,537.6 L816.8,540.5 L817.3,543.3 L817.8,546.1 L818.4,549.0 L819.0,552.5 L819.7,556.0 L820.5,559.5 L821.2,563.0 L822.3,566.8 L823.3,570.6 L824.4,574.4 L825.5,578.2 L827.2,582.0 L828.8,585.8 L830.5,589.6 L832.2,593.4 L834.0,596.5 L835.8,599.7 L837.7,602.9 L839.5,606.0 L840.0,607.0 L840.6,608.0 L841.1,609.0 L841.6,610.0"/><path d="M893.9,226.7 L892.3,231.7 L890.8,236.7 L889.2,241.7 L887.6,246.7 L886.3,251.4 L885.1,256.2 L883.8,260.9 L882.5,265.7 L881.3,270.8 L880.0,275.9 L878.8,280.9 L877.5,286.0 L876.7,290.5 L875.9,295.0 L875.0,299.5 L874.2,304.0 L873.4,308.8 L872.5,313.5 L871.7,318.2 L870.8,323.0 L869.9,328.7 L868.9,334.4 L868.0,340.1 L867.0,345.8 L866.1,352.9 L865.1,359.9 L864.2,366.9 L863.2,374.0 L862.8,379.0 L862.3,384.0 L861.8,389.0 L861.3,394.0 L860.6,398.8 L859.9,403.5 L859.2,408.2 L858.5,413.0 L857.7,419.4 L856.9,425.7 L856.1,432.0 L855.4,438.4 L854.8,442.5 L854.2,446.7 L853.6,450.9 L853.0,455.0 L852.5,457.5 L851.9,460.0 L851.4,462.5 L850.9,465.0 L849.4,467.9 L847.9,470.8 L846.7,473.6 L845.4,476.5 L842.8,479.4 L840.3,482.2 L837.7,485.1 L835.0,488.0 L832.1,490.9 L829.2,493.7 L826.2,496.5 L823.3,499.4 L822.0,502.5 L820.6,505.7 L819.3,508.9 L818.0,512.0 L817.5,515.5 L817.0,519.0 L816.5,522.5 L816.0,526.0 L816.4,528.9 L816.7,531.8 L817.1,534.7 L817.5,537.6 L818.0,540.5 L818.6,543.3 L819.1,546.1 L819.6,549.0 L820.3,552.5 L821.1,556.0 L821.8,559.5 L822.6,563.0 L823.8,566.8 L824.9,570.6 L826.0,574.4 L827.2,578.2 L828.9,582.0 L830.6,585.8 L832.4,589.6 L834.1,593.4 L835.9,596.5 L837.8,599.7 L839.7,602.9 L841.6,606.0 L842.1,607.0 L842.6,608.0 L843.1,609.0 L843.7,610.0"/><path d="M894.7,226.7 L893.1,231.7 L891.6,236.7 L890.0,241.7 L888.4,246.7 L887.1,251.4 L885.9,256.2 L884.6,260.9 L883.3,265.7 L882.1,270.8 L880.8,275.9 L879.6,280.9 L878.3,286.0 L877.5,290.5 L876.7,295.0 L875.9,299.5 L875.0,304.0 L874.2,308.8 L873.3,313.5 L872.5,318.2 L871.6,323.0 L870.7,328.7 L869.7,334.4 L868.8,340.1 L867.9,345.8 L866.9,352.9 L866.0,359.9 L865.0,366.9 L864.1,374.0 L863.6,379.0 L863.1,384.0 L862.6,389.0 L862.1,394.0 L861.4,398.8 L860.7,403.5 L860.0,408.2 L859.3,413.0 L858.5,419.4 L857.7,425.7 L857.0,432.0 L856.2,438.4 L855.6,442.5 L855.0,446.7 L854.4,450.9 L853.8,455.0 L853.3,457.5 L852.8,460.0 L852.2,462.5 L851.7,465.0 L850.2,467.9 L848.8,470.8 L847.6,473.6 L846.5,476.5 L843.9,479.4 L841.5,482.2 L839.0,485.1 L836.3,488.0 L833.4,490.9 L830.4,493.7 L827.5,496.5 L824.5,499.4 L823.2,502.5 L821.8,505.7 L820.5,508.9 L819.2,512.0 L818.7,515.5 L818.2,519.0 L817.7,522.5 L817.2,526.0 L817.5,528.9 L817.9,531.8 L818.3,534.7 L818.7,537.6 L819.2,540.5 L819.8,543.3 L820.4,546.1 L820.9,549.0 L821.6,552.5 L822.4,556.0 L823.2,559.5 L824.1,563.0 L825.3,566.8 L826.5,570.6 L827.7,574.4 L828.9,578.2 L830.7,582.0 L832.4,585.8 L834.2,589.6 L836.0,593.4 L837.9,596.5 L839.8,599.7 L841.7,602.9 L843.6,606.0 L844.1,607.0 L844.7,608.0 L845.2,609.0 L845.7,610.0"/><path d="M895.5,226.7 L893.9,231.7 L892.4,236.7 L890.8,241.7 L889.2,246.7 L887.9,251.4 L886.7,256.2 L885.4,260.9 L884.1,265.7 L882.9,270.8 L881.6,275.9 L880.4,280.9 L879.1,286.0 L878.3,290.5 L877.5,295.0 L876.7,299.5 L875.8,304.0 L875.0,308.8 L874.1,313.5 L873.3,318.2 L872.5,323.0 L871.5,328.7 L870.6,334.4 L869.6,340.1 L868.7,345.8 L867.7,352.9 L866.8,359.9 L865.8,366.9 L864.9,374.0 L864.4,379.0 L863.9,384.0 L863.4,389.0 L862.9,394.0 L862.2,398.8 L861.5,403.5 L860.8,408.2 L860.1,413.0 L859.3,419.4 L858.6,425.7 L857.8,432.0 L857.0,438.4 L856.4,442.5 L855.8,446.7 L855.2,450.9 L854.6,455.0 L854.1,457.5 L853.6,460.0 L853.1,462.5 L852.5,465.0 L851.0,467.9 L849.6,470.8 L848.6,473.6 L847.5,476.5 L845.0,479.4 L842.7,482.2 L840.3,485.1 L837.7,488.0 L834.7,490.9 L831.7,493.7 L828.7,496.5 L825.8,499.4 L824.4,502.5 L823.0,505.7 L821.7,508.9 L820.3,512.0 L819.8,515.5 L819.3,519.0 L818.8,522.5 L818.3,526.0 L818.7,528.9 L819.0,531.8 L819.5,534.7 L819.9,537.6 L820.5,540.5 L821.0,543.3 L821.6,546.1 L822.2,549.0 L822.9,552.5 L823.7,556.0 L824.6,559.5 L825.5,563.0 L826.8,566.8 L828.0,570.6 L829.3,574.4 L830.5,578.2 L832.4,582.0 L834.2,585.8 L836.0,589.6 L837.9,593.4 L839.8,596.5 L841.8,599.7 L843.7,602.9 L845.7,606.0 L846.2,607.0 L846.7,608.0 L847.2,609.0 L847.8,610.0"/><path d="M896.3,226.7 L894.7,231.7 L893.2,236.7 L891.6,241.7 L890.0,246.7 L888.7,251.4 L887.5,256.2 L886.2,260.9 L884.9,265.7 L883.7,270.8 L882.4,275.9 L881.2,280.9 L879.9,286.0 L879.1,290.5 L878.3,295.0 L877.5,299.5 L876.6,304.0 L875.8,308.8 L875.0,313.5 L874.1,318.2 L873.3,323.0 L872.3,328.7 L871.4,334.4 L870.4,340.1 L869.5,345.8 L868.5,352.9 L867.6,359.9 L866.6,366.9 L865.7,374.0 L865.2,379.0 L864.7,384.0 L864.2,389.0 L863.7,394.0 L863.0,398.8 L862.3,403.5 L861.6,408.2 L860.9,413.0 L860.2,419.4 L859.4,425.7 L858.6,432.0 L857.8,438.4 L857.2,442.5 L856.6,446.7 L856.1,450.9 L855.5,455.0 L854.9,457.5 L854.4,460.0 L853.9,462.5 L853.4,465.0 L851.9,467.9 L850.5,470.8 L849.5,473.6 L848.5,476.5 L846.1,479.4 L843.8,482.2 L841.6,485.1 L839.0,488.0 L836.0,490.9 L833.0,493.7 L830.0,496.5 L827.0,499.4 L825.6,502.5 L824.2,505.7 L822.9,508.9 L821.5,512.0 L821.0,515.5 L820.5,519.0 L820.0,522.5 L819.5,526.0 L819.8,528.9 L820.2,531.8 L820.6,534.7 L821.1,537.6 L821.7,540.5 L822.3,543.3 L822.9,546.1 L823.5,549.0 L824.2,552.5 L825.1,556.0 L826.0,559.5 L827.0,563.0 L828.3,566.8 L829.6,570.6 L830.9,574.4 L832.2,578.2 L834.1,582.0 L836.0,585.8 L837.9,589.6 L839.7,593.4 L841.7,596.5 L843.7,599.7 L845.7,602.9 L847.7,606.0 L848.3,607.0 L848.8,608.0 L849.3,609.0 L849.8,610.0"/><path d="M897.1,226.7 L895.5,231.7 L894.0,236.7 L892.4,241.7 L890.8,246.7 L889.5,251.4 L888.3,256.2 L887.0,260.9 L885.7,265.7 L884.5,270.8 L883.2,275.9 L882.0,280.9 L880.7,286.0 L879.9,290.5 L879.1,295.0 L878.3,299.5 L877.5,304.0 L876.6,308.8 L875.8,313.5 L874.9,318.2 L874.1,323.0 L873.1,328.7 L872.2,334.4 L871.2,340.1 L870.3,345.8 L869.3,352.9 L868.4,359.9 L867.5,366.9 L866.5,374.0 L866.0,379.0 L865.5,384.0 L865.0,389.0 L864.5,394.0 L863.8,398.8 L863.1,403.5 L862.4,408.2 L861.7,413.0 L861.0,419.4 L860.2,425.7 L859.4,432.0 L858.7,438.4 L858.1,442.5 L857.5,446.7 L856.9,450.9 L856.3,455.0 L855.8,457.5 L855.2,460.0 L854.7,462.5 L854.2,465.0 L852.7,467.9 L851.3,470.8 L850.4,473.6 L849.5,476.5 L847.2,479.4 L845.0,482.2 L842.8,485.1 L840.4,488.0 L837.3,490.9 L834.3,493.7 L831.3,496.5 L828.2,499.4 L826.8,502.5 L825.4,505.7 L824.0,508.9 L822.6,512.0 L822.1,515.5 L821.6,519.0 L821.1,522.5 L820.6,526.0 L821.0,528.9 L821.4,531.8 L821.8,534.7 L822.3,537.6 L822.9,540.5 L823.5,543.3 L824.1,546.1 L824.7,549.0 L825.5,552.5 L826.4,556.0 L827.4,559.5 L828.4,563.0 L829.8,566.8 L831.2,570.6 L832.6,574.4 L833.9,578.2 L835.9,582.0 L837.8,585.8 L839.7,589.6 L841.6,593.4 L843.7,596.5 L845.7,599.7 L847.7,602.9 L849.8,606.0 L850.3,607.0 L850.8,608.0 L851.4,609.0 L851.9,610.0"/><path d="M897.9,226.7 L896.3,231.7 L894.8,236.7 L893.2,241.7 L891.6,246.7 L890.3,251.4 L889.1,256.2 L887.8,260.9 L886.5,265.7 L885.3,270.8 L884.0,275.9 L882.8,280.9 L881.5,286.0 L880.7,290.5 L879.9,295.0 L879.1,299.5 L878.3,304.0 L877.4,308.8 L876.6,313.5 L875.7,318.2 L874.9,323.0 L873.9,328.7 L873.0,334.4 L872.0,340.1 L871.1,345.8 L870.2,352.9 L869.2,359.9 L868.3,366.9 L867.3,374.0 L866.8,379.0 L866.3,384.0 L865.8,389.0 L865.3,394.0 L864.7,398.8 L864.0,403.5 L863.3,408.2 L862.6,413.0 L861.8,419.4 L861.0,425.7 L860.3,432.0 L859.5,438.4 L858.9,442.5 L858.3,446.7 L857.7,450.9 L857.1,455.0 L856.6,457.5 L856.1,460.0 L855.5,462.5 L855.0,465.0 L853.5,467.9 L852.2,470.8 L851.4,473.6 L850.5,476.5 L848.3,479.4 L846.2,482.2 L844.1,485.1 L841.7,488.0 L838.6,490.9 L835.6,493.7 L832.5,496.5 L829.5,499.4 L828.0,502.5 L826.6,505.7 L825.2,508.9 L823.8,512.0 L823.3,515.5 L822.8,519.0 L822.3,522.5 L821.8,526.0 L822.1,528.9 L822.5,531.8 L823.0,534.7 L823.5,537.6 L824.1,540.5 L824.7,543.3 L825.4,546.1 L826.0,549.0 L826.8,552.5 L827.7,556.0 L828.8,559.5 L829.9,563.0 L831.3,566.8 L832.7,570.6 L834.2,574.4 L835.6,578.2 L837.6,582.0 L839.6,585.8 L841.6,589.6 L843.5,593.4 L845.6,596.5 L847.7,599.7 L849.8,602.9 L851.8,606.0 L852.4,607.0 L852.9,608.0 L853.4,609.0 L853.9,610.0"/><path d="M898.7,226.7 L897.1,231.7 L895.6,236.7 L894.0,241.7 L892.4,246.7 L891.1,251.4 L889.9,256.2 L888.6,260.9 L887.3,265.7 L886.1,270.8 L884.8,275.9 L883.6,280.9 L882.4,286.0 L881.5,290.5 L880.7,295.0 L879.9,299.5 L879.1,304.0 L878.2,308.8 L877.4,313.5 L876.5,318.2 L875.7,323.0 L874.7,328.7 L873.8,334.4 L872.9,340.1 L871.9,345.8 L871.0,352.9 L870.0,359.9 L869.1,366.9 L868.1,374.0 L867.7,379.0 L867.2,384.0 L866.7,389.0 L866.2,394.0 L865.5,398.8 L864.8,403.5 L864.1,408.2 L863.4,413.0 L862.6,419.4 L861.8,425.7 L861.1,432.0 L860.3,438.4 L859.7,442.5 L859.1,446.7 L858.5,450.9 L857.9,455.0 L857.4,457.5 L856.9,460.0 L856.4,462.5 L855.8,465.0 L854.3,467.9 L853.0,470.8 L852.3,473.6 L851.5,476.5 L849.4,479.4 L847.4,482.2 L845.4,485.1 L843.0,488.0 L839.9,490.9 L836.9,493.7 L833.8,496.5 L830.7,499.4 L829.2,502.5 L827.8,505.7 L826.4,508.9 L825.0,512.0 L824.5,515.5 L824.0,519.0 L823.5,522.5 L822.9,526.0 L823.2,528.9 L823.7,531.8 L824.2,534.7 L824.7,537.6 L825.3,540.5 L826.0,543.3 L826.6,546.1 L827.3,549.0 L828.1,552.5 L829.1,556.0 L830.2,559.5 L831.3,563.0 L832.8,566.8 L834.3,570.6 L835.8,574.4 L837.3,578.2 L839.4,582.0 L841.4,585.8 L843.4,589.6 L845.4,593.4 L847.5,596.5 L849.7,599.7 L851.8,602.9 L853.9,606.0 L854.4,607.0 L854.9,608.0 L855.5,609.0 L856.0,610.0"/><path d="M899.5,226.7 L897.9,231.7 L896.4,236.7 L894.8,241.7 L893.2,246.7 L891.9,251.4 L890.7,256.2 L889.4,260.9 L888.1,265.7 L886.9,270.8 L885.6,275.9 L884.4,280.9 L883.2,286.0 L882.3,290.5 L881.5,295.0 L880.7,299.5 L879.9,304.0 L879.0,308.8 L878.2,313.5 L877.3,318.2 L876.5,323.0 L875.6,328.7 L874.6,334.4 L873.7,340.1 L872.7,345.8 L871.8,352.9 L870.8,359.9 L869.9,366.9 L869.0,374.0 L868.5,379.0 L868.0,384.0 L867.5,389.0 L867.0,394.0 L866.3,398.8 L865.6,403.5 L864.9,408.2 L864.2,413.0 L863.4,419.4 L862.7,425.7 L861.9,432.0 L861.1,438.4 L860.5,442.5 L859.9,446.7 L859.4,450.9 L858.8,455.0 L858.2,457.5 L857.7,460.0 L857.2,462.5 L856.7,465.0 L855.2,467.9 L853.9,470.8 L853.2,473.6 L852.6,476.5 L850.5,479.4 L848.6,482.2 L846.7,485.1 L844.4,488.0 L841.3,490.9 L838.1,493.7 L835.0,496.5 L831.9,499.4 L830.5,502.5 L829.0,505.7 L827.6,508.9 L826.1,512.0 L825.6,515.5 L825.1,519.0 L824.6,522.5 L824.1,526.0 L824.4,528.9 L824.8,531.8 L825.4,534.7 L825.9,537.6 L826.6,540.5 L827.2,543.3 L827.9,546.1 L828.6,549.0 L829.4,552.5 L830.4,556.0 L831.6,559.5 L832.8,563.0 L834.3,566.8 L835.9,570.6 L837.4,574.4 L839.0,578.2 L841.1,582.0 L843.2,585.8 L845.2,589.6 L847.3,593.4 L849.5,596.5 L851.6,599.7 L853.8,602.9 L855.9,606.0 L856.5,607.0 L857.0,608.0 L857.5,609.0 L858.0,610.0"/><path d="M900.3,226.7 L898.7,231.7 L897.2,236.7 L895.6,241.7 L894.0,246.7 L892.7,251.4 L891.5,256.2 L890.2,260.9 L888.9,265.7 L887.7,270.8 L886.5,275.9 L885.2,280.9 L884.0,286.0 L883.1,290.5 L882.3,295.0 L881.5,299.5 L880.7,304.0 L879.8,308.8 L879.0,313.5 L878.2,318.2 L877.3,323.0 L876.4,328.7 L875.4,334.4 L874.5,340.1 L873.5,345.8 L872.6,352.9 L871.7,359.9 L870.7,366.9 L869.8,374.0 L869.3,379.0 L868.8,384.0 L868.3,389.0 L867.8,394.0 L867.1,398.8 L866.4,403.5 L865.7,408.2 L865.0,413.0 L864.3,419.4 L863.5,425.7 L862.7,432.0 L862.0,438.4 L861.4,442.5 L860.8,446.7 L860.2,450.9 L859.6,455.0 L859.1,457.5 L858.5,460.0 L858.0,462.5 L857.5,465.0 L856.0,467.9 L854.7,470.8 L854.2,473.6 L853.6,476.5 L851.6,479.4 L849.8,482.2 L848.0,485.1 L845.7,488.0 L842.6,490.9 L839.4,493.7 L836.3,496.5 L833.2,499.4 L831.7,502.5 L830.2,505.7 L828.8,508.9 L827.3,512.0 L826.8,515.5 L826.3,519.0 L825.8,522.5 L825.2,526.0 L825.5,528.9 L826.0,531.8 L826.5,534.7 L827.1,537.6 L827.8,540.5 L828.5,543.3 L829.2,546.1 L829.8,549.0 L830.7,552.5 L831.7,556.0 L833.0,559.5 L834.2,563.0 L835.8,566.8 L837.4,570.6 L839.1,574.4 L840.7,578.2 L842.9,582.0 L845.0,585.8 L847.1,589.6 L849.2,593.4 L851.4,596.5 L853.6,599.7 L855.8,602.9 L858.0,606.0 L858.5,607.0 L859.1,608.0 L859.6,609.0 L860.1,610.0"/></g>
<g clip-path="url(#c3)" fill="none" stroke="#85400a" stroke-width="1.3"><path d="M886.5,226.7 C885.0,231.1 880.6,244.8 877.6,253.0 C874.6,261.2 870.7,270.5 868.7,275.8 C866.8,281.1 867.3,281.4 865.9,285.0 C864.5,288.6 862.7,293.4 860.5,297.6 C858.3,301.8 855.7,306.4 852.8,310.2 C849.9,314.0 846.8,317.4 843.2,320.4 C839.6,323.3 834.8,326.0 831.0,327.9 C827.2,329.8 823.9,330.9 820.4,332.0 C816.9,333.1 813.4,333.7 810.0,334.5 C806.6,335.3 803.5,336.3 800.0,337.0 C796.5,337.7 794.2,337.3 788.7,338.7 C783.2,340.1 773.1,343.1 767.2,345.1 C761.3,347.1 757.0,348.8 753.2,350.8 C749.4,352.8 746.7,354.6 744.4,357.1 C742.1,359.6 740.5,363.4 739.3,366.0 C738.1,368.6 737.7,371.8 737.4,373.0"/><path d="M891.5,226.7 C890.5,230.0 887.1,240.2 885.2,246.7 C883.3,253.2 881.8,259.1 880.1,265.7 C878.4,272.2 876.5,279.6 875.1,286.0 C873.7,292.4 872.9,297.8 871.8,304.0 C870.7,310.2 869.6,316.0 868.4,323.0 C867.2,330.0 865.9,337.3 864.6,345.8 C863.3,354.3 861.8,366.0 860.8,374.0 C859.8,382.0 859.6,387.5 858.8,394.0 C858.0,400.5 857.0,405.6 856.0,413.0 C855.0,420.4 853.8,431.4 852.9,438.4 C852.0,445.4 851.2,450.6 850.5,455.0 C849.8,459.4 849.8,461.4 848.4,465.0 C847.0,468.6 845.3,472.7 842.4,476.5 C839.5,480.3 834.8,484.2 831.0,488.0 C827.2,491.8 822.4,495.4 819.6,499.4 C816.9,503.4 815.7,507.6 814.5,512.0 C813.3,516.4 812.7,521.7 812.6,526.0 C812.5,530.3 813.4,533.8 813.9,537.6 C814.4,541.4 815.1,544.8 815.8,549.0 C816.5,553.2 817.2,558.1 818.3,563.0 C819.3,567.9 820.4,573.1 822.1,578.2 C823.8,583.3 826.2,588.8 828.4,593.4 C830.6,598.0 834.2,603.9 835.4,606.0"/></g>
<g fill="#000"><ellipse cx="906.1" cy="270.2" rx="3.2" ry="2.9"/><ellipse cx="820.7" cy="295.0" rx="3.2" ry="2.9"/><ellipse cx="820.7" cy="311.2" rx="3.2" ry="2.9"/><ellipse cx="863.0" cy="297.4" rx="3.2" ry="2.9"/><ellipse cx="951.0" cy="301.6" rx="3.2" ry="2.9"/><ellipse cx="864.3" cy="357.0" rx="3.2" ry="2.9"/><ellipse cx="857.0" cy="374.7" rx="3.2" ry="2.9"/><ellipse cx="860.0" cy="390.6" rx="3.2" ry="2.9"/><ellipse cx="826.3" cy="395.4" rx="3.2" ry="2.9"/><ellipse cx="858.8" cy="413.6" rx="3.2" ry="2.9"/><ellipse cx="873.5" cy="421.9" rx="3.2" ry="2.9"/><ellipse cx="899.8" cy="419.4" rx="3.2" ry="2.9"/><ellipse cx="841.0" cy="490.4" rx="3.2" ry="2.9"/><ellipse cx="838.6" cy="495.7" rx="3.2" ry="2.9"/><ellipse cx="823.9" cy="509.2" rx="3.2" ry="2.9"/><ellipse cx="807.9" cy="519.0" rx="3.2" ry="2.9"/><ellipse cx="835.1" cy="518.1" rx="3.2" ry="2.9"/><ellipse cx="872.2" cy="520.2" rx="3.2" ry="2.9"/><ellipse cx="899.2" cy="504.2" rx="3.2" ry="2.9"/><ellipse cx="952.6" cy="492.3" rx="3.2" ry="2.9"/><ellipse cx="793.2" cy="537.6" rx="3.2" ry="2.9"/><ellipse cx="810.2" cy="537.8" rx="3.2" ry="2.9"/><ellipse cx="814.3" cy="534.6" rx="3.2" ry="2.9"/><ellipse cx="828.0" cy="537.5" rx="3.2" ry="2.9"/><ellipse cx="835.0" cy="550.5" rx="3.2" ry="2.9"/><ellipse cx="828.4" cy="553.5" rx="3.2" ry="2.9"/><ellipse cx="818.0" cy="557.0" rx="3.2" ry="2.9"/><ellipse cx="828.1" cy="568.4" rx="3.2" ry="2.9"/><ellipse cx="818.0" cy="573.3" rx="3.2" ry="2.9"/><ellipse cx="836.7" cy="574.6" rx="3.2" ry="2.9"/><ellipse cx="920.8" cy="585.5" rx="3.2" ry="2.9"/><ellipse cx="935.7" cy="549.2" rx="3.2" ry="2.9"/><ellipse cx="928.8" cy="573.3" rx="3.2" ry="2.9"/></g>
<g fill="#000"><ellipse cx="1126.0" cy="290.2" rx="3.2" ry="2.9"/><ellipse cx="1144.6" cy="332.9" rx="3.2" ry="2.9"/><ellipse cx="1122.3" cy="371.0" rx="3.2" ry="2.9"/><ellipse cx="1126.1" cy="369.2" rx="3.2" ry="2.9"/><ellipse cx="1149.7" cy="456.6" rx="3.2" ry="2.9"/><ellipse cx="1151.2" cy="490.3" rx="3.2" ry="2.9"/><ellipse cx="1214.1" cy="511.9" rx="3.2" ry="2.9"/><ellipse cx="1204.2" cy="523.8" rx="3.2" ry="2.9"/><ellipse cx="1173.8" cy="549.4" rx="3.2" ry="2.9"/><ellipse cx="1190.8" cy="552.4" rx="3.2" ry="2.9"/><ellipse cx="1129.2" cy="578.9" rx="3.2" ry="2.9"/><ellipse cx="1143.9" cy="578.2" rx="3.2" ry="2.9"/><ellipse cx="1211.1" cy="587.8" rx="3.2" ry="2.9"/><ellipse cx="1145.1" cy="604.3" rx="3.2" ry="2.9"/></g>
<g stroke="#1010e6" fill="none"><path d="M723.6,279.7L727.2,274.9L730.8,279.7L727.2,284.5Z" fill="#1010e6" stroke-width="0.8" stroke-linejoin="round"/><path d="M726.6,279.7h1.2" stroke-width="1.1"/><path d="M726.6,273.7v12M727.8,273.7v12" stroke-width="1.8"/><path d="M723.6,307.1L727.2,302.2L730.8,307.1L727.2,311.9Z" fill="#1010e6" stroke-width="0.8" stroke-linejoin="round"/><path d="M726.6,307.1h1.2" stroke-width="1.1"/><path d="M726.6,301.1v12M727.8,301.1v12" stroke-width="1.8"/><path d="M723.6,334.4L727.2,329.6L730.8,334.4L727.2,339.2Z" fill="#1010e6" stroke-width="0.8" stroke-linejoin="round"/><path d="M726.6,334.4h1.2" stroke-width="1.1"/><path d="M726.6,328.4v12M727.8,328.4v12" stroke-width="1.8"/><path d="M723.6,361.8L727.2,356.9L730.8,361.8L727.2,366.6Z" fill="#1010e6" stroke-width="0.8" stroke-linejoin="round"/><path d="M726.6,361.8h1.2" stroke-width="1.1"/><path d="M726.6,355.8v12M727.8,355.8v12" stroke-width="1.8"/><path d="M723.6,389.1L727.2,384.3L730.8,389.1L727.2,393.9Z" fill="#1010e6" stroke-width="0.8" stroke-linejoin="round"/><path d="M726.6,389.1h1.2" stroke-width="1.1"/><path d="M726.6,383.1v12M727.8,383.1v12" stroke-width="1.8"/><path d="M723.6,416.5L727.2,411.7L730.8,416.5L727.2,421.3Z" fill="#1010e6" stroke-width="0.8" stroke-linejoin="round"/><path d="M726.5,416.5h1.4" stroke-width="1.1"/><path d="M726.5,410.5v12M727.9,410.5v12" stroke-width="1.8"/><path d="M723.6,443.8L727.2,439.0L730.8,443.8L727.2,448.6Z" fill="#1010e6" stroke-width="0.8" stroke-linejoin="round"/><path d="M725.6,443.8h3.2" stroke-width="1.1"/><path d="M725.6,437.8v12M728.8,437.8v12" stroke-width="1.8"/><path d="M723.6,471.1L727.2,466.3L730.8,471.1L727.2,475.9Z" fill="#1010e6" stroke-width="0.8" stroke-linejoin="round"/><path d="M724.9,471.1h4.7" stroke-width="1.1"/><path d="M724.9,465.1v12M729.6,465.1v12" stroke-width="1.8"/><circle cx="727.2" cy="498.5" r="3" fill="#1010e6" stroke="none"/><path d="M723.6,498.5h7.2" stroke-width="1.1"/><path d="M723.6,492.5v12M730.8,492.5v12" stroke-width="1.8"/><circle cx="727.2" cy="525.9" r="3" fill="#1010e6" stroke="none"/><path d="M722.1,525.9h10.2" stroke-width="1.1"/><path d="M722.1,519.9v12M732.3,519.9v12" stroke-width="1.8"/><circle cx="727.2" cy="553.2" r="3" fill="#1010e6" stroke="none"/><path d="M719.6,553.2h15.3" stroke-width="1.1"/><path d="M719.6,547.2v12M734.9,547.2v12" stroke-width="1.8"/><circle cx="727.2" cy="580.5" r="3" fill="#1010e6" stroke="none"/><path d="M716.0,580.5h22.5" stroke-width="1.1"/><path d="M716.0,574.5v12M738.5,574.5v12" stroke-width="1.8"/></g>
<g stroke="#1010e6" fill="none"><path d="M1015.5,279.7L1019.1,274.9L1022.7,279.7L1019.1,284.5Z" fill="#1010e6" stroke-width="0.8" stroke-linejoin="round"/><path d="M1018.5,279.7h1.2" stroke-width="1.1"/><path d="M1018.5,273.7v12M1019.7,273.7v12" stroke-width="1.8"/><path d="M1015.5,307.1L1019.1,302.2L1022.7,307.1L1019.1,311.9Z" fill="#1010e6" stroke-width="0.8" stroke-linejoin="round"/><path d="M1018.5,307.1h1.2" stroke-width="1.1"/><path d="M1018.5,301.1v12M1019.7,301.1v12" stroke-width="1.8"/><path d="M1015.5,334.4L1019.1,329.6L1022.7,334.4L1019.1,339.2Z" fill="#1010e6" stroke-width="0.8" stroke-linejoin="round"/><path d="M1018.5,334.4h1.2" stroke-width="1.1"/><path d="M1018.5,328.4v12M1019.7,328.4v12" stroke-width="1.8"/><path d="M1015.5,361.8L1019.1,356.9L1022.7,361.8L1019.1,366.6Z" fill="#1010e6" stroke-width="0.8" stroke-linejoin="round"/><path d="M1018.5,361.8h1.2" stroke-width="1.1"/><path d="M1018.5,355.8v12M1019.7,355.8v12" stroke-width="1.8"/><path d="M1015.5,389.1L1019.1,384.3L1022.7,389.1L1019.1,393.9Z" fill="#1010e6" stroke-width="0.8" stroke-linejoin="round"/><path d="M1018.5,389.1h1.2" stroke-width="1.1"/><path d="M1018.5,383.1v12M1019.7,383.1v12" stroke-width="1.8"/><path d="M1015.5,416.5L1019.1,411.7L1022.7,416.5L1019.1,421.3Z" fill="#1010e6" stroke-width="0.8" stroke-linejoin="round"/><path d="M1018.4,416.5h1.4" stroke-width="1.1"/><path d="M1018.4,410.5v12M1019.8,410.5v12" stroke-width="1.8"/><path d="M1015.5,443.8L1019.1,439.0L1022.7,443.8L1019.1,448.6Z" fill="#1010e6" stroke-width="0.8" stroke-linejoin="round"/><path d="M1017.5,443.8h3.2" stroke-width="1.1"/><path d="M1017.5,437.8v12M1020.7,437.8v12" stroke-width="1.8"/><path d="M1015.5,471.1L1019.1,466.3L1022.7,471.1L1019.1,475.9Z" fill="#1010e6" stroke-width="0.8" stroke-linejoin="round"/><path d="M1016.8,471.1h4.7" stroke-width="1.1"/><path d="M1016.8,465.1v12M1021.5,465.1v12" stroke-width="1.8"/><circle cx="1019.1" cy="498.5" r="3" fill="#1010e6" stroke="none"/><path d="M1015.5,498.5h7.2" stroke-width="1.1"/><path d="M1015.5,492.5v12M1022.7,492.5v12" stroke-width="1.8"/><circle cx="1019.1" cy="525.9" r="3" fill="#1010e6" stroke="none"/><path d="M1014.0,525.9h10.2" stroke-width="1.1"/><path d="M1014.0,519.9v12M1024.2,519.9v12" stroke-width="1.8"/><circle cx="1019.1" cy="553.2" r="3" fill="#1010e6" stroke="none"/><path d="M1011.5,553.2h15.3" stroke-width="1.1"/><path d="M1011.5,547.2v12M1026.8,547.2v12" stroke-width="1.8"/><circle cx="1019.1" cy="580.5" r="3" fill="#1010e6" stroke="none"/><path d="M1007.9,580.5h22.5" stroke-width="1.1"/><path d="M1007.9,574.5v12M1030.3,574.5v12" stroke-width="1.8"/></g>
<rect x="692.1" y="225.0" width="265.0" height="382.9" fill="none" stroke="#000" stroke-width="3"/>
<rect x="984.9" y="223.9" width="259.6" height="384.0" fill="none" stroke="#000" stroke-width="3"/>
<text x="677" y="233.3" font-size="25" text-anchor="end" letter-spacing="1.4">18</text>
<text x="677" y="288.0" font-size="25" text-anchor="end" letter-spacing="1.4">19</text>
<text x="677" y="342.7" font-size="25" text-anchor="end" letter-spacing="1.4">20</text>
<text x="677" y="397.4" font-size="25" text-anchor="end" letter-spacing="1.4">21</text>
<text x="677" y="452.1" font-size="25" text-anchor="end" letter-spacing="1.4">22</text>
<text x="677" y="506.8" font-size="25" text-anchor="end" letter-spacing="1.4">23</text>
<text x="677" y="561.5" font-size="25" text-anchor="end" letter-spacing="1.4">24</text>
<text x="677" y="616.2" font-size="25" text-anchor="end" letter-spacing="1.4">25</text>
<text x="709.9" y="642" font-size="25" text-anchor="middle" letter-spacing="1">-0.4</text>
<text x="784.3" y="642" font-size="25" text-anchor="middle" letter-spacing="1">0</text>
<text x="855.5" y="642" font-size="25" text-anchor="middle" letter-spacing="1">0.4</text>
<text x="925.6" y="642" font-size="25" text-anchor="middle" letter-spacing="1">0.8</text>
<text x="1002.6" y="642" font-size="25" text-anchor="middle" letter-spacing="1">-0.4</text>
<text x="1074.9" y="642" font-size="25" text-anchor="middle" letter-spacing="1">0</text>
<text x="1144.5" y="642" font-size="25" text-anchor="middle" letter-spacing="1">0.4</text>
<text x="1213.5" y="642" font-size="25" text-anchor="middle" letter-spacing="1">0.8</text>
<text class="it" x="779.6" y="668.9" font-size="30.5">g</text>
<rect x="808.4" y="660.6" width="17.2" height="1.1" fill="#111"/>
<text class="it" transform="translate(835.2,668.9) scale(1.12,1)" font-size="30.5">r</text>
<text class="it" x="1069.9" y="668.9" font-size="30.5">g</text>
<rect x="1098.7" y="660.6" width="17.2" height="1.1" fill="#111"/>
<text class="it" transform="translate(1125.5,668.9) scale(1.12,1)" font-size="30.5">r</text>
<text class="it" font-size="30.5" transform="translate(632.5,424) rotate(-90)">r</text>
<text x="779" y="203.1" font-size="31.5" letter-spacing="0.3" word-spacing="3.5">Virgo I</text>
<text x="1016" y="206.5" font-size="31" letter-spacing="0.1" word-spacing="4.4">General Field</text>
<rect x="683.1" y="64.2" width="541.1" height="99" fill="#fff" stroke="#000" stroke-width="2"/>
<text x="953.5" y="103.9" font-size="36" text-anchor="middle" letter-spacing="0.17" word-spacing="4">Stellar distribution</text>
<text x="953.7" y="149.1" font-size="36" text-anchor="middle" letter-spacing="0.17" word-spacing="4">in the color-magnitude diagram</text>
</svg></body></html>
